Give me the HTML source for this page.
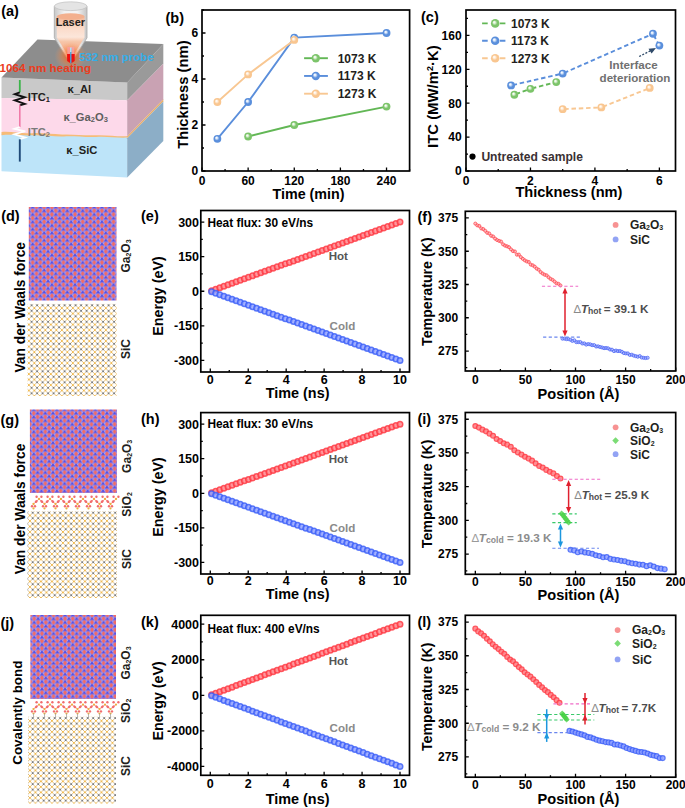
<!DOCTYPE html>
<html><head><meta charset="utf-8"><style>html,body{margin:0;padding:0;background:#fff;overflow:hidden;width:685px;height:808px;} svg{display:block;} text{font-family:"Liberation Sans", sans-serif;}</style></head>
<body><svg width="685" height="808" viewBox="0 0 685 808" font-family='"Liberation Sans", sans-serif'>
<defs>
<radialGradient id="sp_g" cx="0.5" cy="0.5" r="0.5" fx="0.36" fy="0.34"><stop offset="0" stop-color="#ffffff"/><stop offset="0.22" stop-color="#e8f6e2"/><stop offset="0.6" stop-color="#7cc46a"/><stop offset="1" stop-color="#7cc46a"/></radialGradient>
<radialGradient id="sp_bl" cx="0.5" cy="0.5" r="0.5" fx="0.36" fy="0.34"><stop offset="0" stop-color="#ffffff"/><stop offset="0.22" stop-color="#e4eefb"/><stop offset="0.6" stop-color="#5a8fdc"/><stop offset="1" stop-color="#5a8fdc"/></radialGradient>
<radialGradient id="sp_pe" cx="0.5" cy="0.5" r="0.5" fx="0.36" fy="0.34"><stop offset="0" stop-color="#ffffff"/><stop offset="0.22" stop-color="#fff3e6"/><stop offset="0.6" stop-color="#f9c690"/><stop offset="1" stop-color="#f9c690"/></radialGradient>
<pattern id="ga_d" patternUnits="userSpaceOnUse" width="7.7" height="7.4" x="28.8" y="207">
<rect width="7.7" height="7.4" fill="#b8a4ea"/>
<path d="M0.000 -2.800l1.95 2.8l-1.95 2.8l-1.95 -2.8z M7.700 -2.800l1.95 2.8l-1.95 2.8l-1.95 -2.8z M3.850 0.900l1.95 2.8l-1.95 2.8l-1.95 -2.8z M0.000 4.600l1.95 2.8l-1.95 2.8l-1.95 -2.8z M7.700 4.600l1.95 2.8l-1.95 2.8l-1.95 -2.8z" fill="#f26a62"/>
<path d="M3.850 -1.800l2.25 3.3h-4.5z M0.000 1.900l2.25 3.3h-4.5z M7.700 1.900l2.25 3.3h-4.5z M3.850 5.600l2.25 3.3h-4.5z" fill="#5250e6"/>
<circle cx="1.925" cy="1.850" r="0.7" fill="#7a6ae8"/><circle cx="5.775" cy="1.850" r="0.7" fill="#7a6ae8"/><circle cx="1.925" cy="5.550" r="0.7" fill="#7a6ae8"/><circle cx="5.775" cy="5.550" r="0.7" fill="#7a6ae8"/>
</pattern><pattern id="ga_g" patternUnits="userSpaceOnUse" width="7.7" height="7.4" x="29.9" y="409.5">
<rect width="7.7" height="7.4" fill="#b8a4ea"/>
<path d="M0.000 -2.800l1.95 2.8l-1.95 2.8l-1.95 -2.8z M7.700 -2.800l1.95 2.8l-1.95 2.8l-1.95 -2.8z M3.850 0.900l1.95 2.8l-1.95 2.8l-1.95 -2.8z M0.000 4.600l1.95 2.8l-1.95 2.8l-1.95 -2.8z M7.700 4.600l1.95 2.8l-1.95 2.8l-1.95 -2.8z" fill="#f26a62"/>
<path d="M3.850 -1.800l2.25 3.3h-4.5z M0.000 1.900l2.25 3.3h-4.5z M7.700 1.900l2.25 3.3h-4.5z M3.850 5.600l2.25 3.3h-4.5z" fill="#5250e6"/>
<circle cx="1.925" cy="1.850" r="0.7" fill="#7a6ae8"/><circle cx="5.775" cy="1.850" r="0.7" fill="#7a6ae8"/><circle cx="1.925" cy="5.550" r="0.7" fill="#7a6ae8"/><circle cx="5.775" cy="5.550" r="0.7" fill="#7a6ae8"/>
</pattern><pattern id="ga_j" patternUnits="userSpaceOnUse" width="7.7" height="7.4" x="30.4" y="615">
<rect width="7.7" height="7.4" fill="#b8a4ea"/>
<path d="M0.000 -2.800l1.95 2.8l-1.95 2.8l-1.95 -2.8z M7.700 -2.800l1.95 2.8l-1.95 2.8l-1.95 -2.8z M3.850 0.900l1.95 2.8l-1.95 2.8l-1.95 -2.8z M0.000 4.600l1.95 2.8l-1.95 2.8l-1.95 -2.8z M7.700 4.600l1.95 2.8l-1.95 2.8l-1.95 -2.8z" fill="#f26a62"/>
<path d="M3.850 -1.800l2.25 3.3h-4.5z M0.000 1.900l2.25 3.3h-4.5z M7.700 1.900l2.25 3.3h-4.5z M3.850 5.600l2.25 3.3h-4.5z" fill="#5250e6"/>
<circle cx="1.925" cy="1.850" r="0.7" fill="#7a6ae8"/><circle cx="5.775" cy="1.850" r="0.7" fill="#7a6ae8"/><circle cx="1.925" cy="5.550" r="0.7" fill="#7a6ae8"/><circle cx="5.775" cy="5.550" r="0.7" fill="#7a6ae8"/>
</pattern><pattern id="sic_d" patternUnits="userSpaceOnUse" width="5.5" height="5.5" x="31.6" y="305.3">
<path d="M-1.45 -1.45L1.45 1.45M1.45 -1.45L-1.45 1.45 M4.05 -1.45L6.95 1.45M6.95 -1.45L4.05 1.45 M-1.45 4.05L1.45 6.95M1.45 4.05L-1.45 6.95 M4.05 4.05L6.95 6.95M6.95 4.05L4.05 6.95" stroke="#7a7a7a" stroke-width="0.9"/>
<path d="M1.3 1.3L4.2 4.2M4.2 1.3L1.3 4.2" stroke="#f0b84c" stroke-width="0.9"/>
</pattern><pattern id="sic_g" patternUnits="userSpaceOnUse" width="5.5" height="5.5" x="32.7" y="512.7">
<path d="M-1.45 -1.45L1.45 1.45M1.45 -1.45L-1.45 1.45 M4.05 -1.45L6.95 1.45M6.95 -1.45L4.05 1.45 M-1.45 4.05L1.45 6.95M1.45 4.05L-1.45 6.95 M4.05 4.05L6.95 6.95M6.95 4.05L4.05 6.95" stroke="#7a7a7a" stroke-width="0.9"/>
<path d="M1.3 1.3L4.2 4.2M4.2 1.3L1.3 4.2" stroke="#f0b84c" stroke-width="0.9"/>
</pattern><pattern id="sic_j" patternUnits="userSpaceOnUse" width="5.5" height="5.5" x="32.7" y="718.1">
<path d="M-1.45 -1.45L1.45 1.45M1.45 -1.45L-1.45 1.45 M4.05 -1.45L6.95 1.45M6.95 -1.45L4.05 1.45 M-1.45 4.05L1.45 6.95M1.45 4.05L-1.45 6.95 M4.05 4.05L6.95 6.95M6.95 4.05L4.05 6.95" stroke="#7a7a7a" stroke-width="0.9"/>
<path d="M1.3 1.3L4.2 4.2M4.2 1.3L1.3 4.2" stroke="#f0b84c" stroke-width="0.9"/>
</pattern></defs>
<rect width="685" height="808" fill="#fff"/>
<rect x="202" y="10" width="207.60" height="161.00" fill="none" stroke="#000" stroke-width="1.7"/>
<path d="M202.00 171v-3.5 M248.13 171v-3.5 M294.27 171v-3.5 M340.40 171v-3.5 M386.53 171v-3.5 M225.07 171v-2.0 M271.20 171v-2.0 M317.33 171v-2.0 M363.47 171v-2.0 M409.60 171v-2.0 M202 171.00h3.5 M202 125.00h3.5 M202 79.00h3.5 M202 33.00h3.5 M202 148.00h2.0 M202 102.00h2.0 M202 56.00h2.0 M202 10.00h2.0" stroke="#000" stroke-width="1.3" fill="none"/>
<text x="202.00" y="185.20" font-size="12" text-anchor="middle" fill="#000" font-weight="bold" >0</text>
<text x="248.13" y="185.20" font-size="12" text-anchor="middle" fill="#000" font-weight="bold" >60</text>
<text x="294.27" y="185.20" font-size="12" text-anchor="middle" fill="#000" font-weight="bold" >120</text>
<text x="340.40" y="185.20" font-size="12" text-anchor="middle" fill="#000" font-weight="bold" >180</text>
<text x="386.53" y="185.20" font-size="12" text-anchor="middle" fill="#000" font-weight="bold" >240</text>
<text x="198.20" y="175.32" font-size="12" text-anchor="end" fill="#000" font-weight="bold" >0</text>
<text x="198.20" y="129.32" font-size="12" text-anchor="end" fill="#000" font-weight="bold" >2</text>
<text x="198.20" y="83.32" font-size="12" text-anchor="end" fill="#000" font-weight="bold" >4</text>
<text x="198.20" y="37.32" font-size="12" text-anchor="end" fill="#000" font-weight="bold" >6</text>
<text x="165.50" y="22.50" font-size="14.5" text-anchor="start" fill="#000" font-weight="bold" >(b)</text>
<text transform="translate(188.20,94.60) rotate(-90)" x="0" y="0" font-size="14.8" text-anchor="middle" fill="#000" font-weight="bold">Thickness (nm)</text>
<text x="308.50" y="198.50" font-size="14.3" text-anchor="middle" fill="#000" font-weight="bold" >Time (min)</text>
<path d="M248.13 136.50 L294.27 125.00 L386.53 106.60" stroke="#62b755" stroke-width="1.9" fill="none"/>
<path d="M217.38 138.80 L248.13 102.00 L294.27 37.60 L386.53 33.00" stroke="#5a8edb" stroke-width="1.9" fill="none"/>
<path d="M217.38 102.00 L248.13 74.40 L294.27 39.90" stroke="#f8c792" stroke-width="1.9" fill="none"/>
<circle cx="248.13" cy="136.50" r="3.9" fill="url(#sp_g)"/>
<circle cx="294.27" cy="125.00" r="3.9" fill="url(#sp_g)"/>
<circle cx="386.53" cy="106.60" r="3.9" fill="url(#sp_g)"/>
<circle cx="217.38" cy="138.80" r="3.9" fill="url(#sp_bl)"/>
<circle cx="248.13" cy="102.00" r="3.9" fill="url(#sp_bl)"/>
<circle cx="294.27" cy="37.60" r="3.9" fill="url(#sp_bl)"/>
<circle cx="386.53" cy="33.00" r="3.9" fill="url(#sp_bl)"/>
<circle cx="217.38" cy="102.00" r="3.9" fill="url(#sp_pe)"/>
<circle cx="248.13" cy="74.40" r="3.9" fill="url(#sp_pe)"/>
<circle cx="294.27" cy="39.90" r="3.9" fill="url(#sp_pe)"/>
<path d="M304.1 58.20H327.9" stroke="#62b755" stroke-width="1.9"/>
<circle cx="315.8" cy="58.20" r="4.2" fill="url(#sp_g)"/>
<text x="337.70" y="62.50" font-size="12" text-anchor="start" fill="#231f20" font-weight="bold" >1073 K</text>
<path d="M304.1 75.95H327.9" stroke="#5a8edb" stroke-width="1.9"/>
<circle cx="315.8" cy="75.95" r="4.2" fill="url(#sp_bl)"/>
<text x="337.70" y="80.25" font-size="12" text-anchor="start" fill="#231f20" font-weight="bold" >1173 K</text>
<path d="M304.1 93.70H327.9" stroke="#f8c792" stroke-width="1.9"/>
<circle cx="315.8" cy="93.70" r="4.2" fill="url(#sp_pe)"/>
<text x="337.70" y="98.00" font-size="12" text-anchor="start" fill="#231f20" font-weight="bold" >1273 K</text>
<rect x="466" y="10" width="209.50" height="161.00" fill="none" stroke="#000" stroke-width="1.7"/>
<path d="M466.00 171v-3.5 M530.46 171v-3.5 M594.92 171v-3.5 M659.38 171v-3.5 M498.23 171v-2.0 M562.69 171v-2.0 M627.15 171v-2.0 M466 171.00h3.5 M466 137.11h3.5 M466 103.21h3.5 M466 69.32h3.5 M466 35.42h3.5 M466 154.05h2.0 M466 120.16h2.0 M466 86.26h2.0 M466 52.37h2.0 M466 18.47h2.0" stroke="#000" stroke-width="1.3" fill="none"/>
<text x="466.00" y="184.80" font-size="12" text-anchor="middle" fill="#000" font-weight="bold" >0</text>
<text x="530.46" y="184.80" font-size="12" text-anchor="middle" fill="#000" font-weight="bold" >2</text>
<text x="594.92" y="184.80" font-size="12" text-anchor="middle" fill="#000" font-weight="bold" >4</text>
<text x="659.38" y="184.80" font-size="12" text-anchor="middle" fill="#000" font-weight="bold" >6</text>
<text x="461.60" y="175.32" font-size="12" text-anchor="end" fill="#000" font-weight="bold" >0</text>
<text x="461.60" y="141.43" font-size="12" text-anchor="end" fill="#000" font-weight="bold" >40</text>
<text x="461.60" y="107.53" font-size="12" text-anchor="end" fill="#000" font-weight="bold" >80</text>
<text x="461.60" y="73.64" font-size="12" text-anchor="end" fill="#000" font-weight="bold" >120</text>
<text x="461.60" y="39.74" font-size="12" text-anchor="end" fill="#000" font-weight="bold" >160</text>
<text x="421.00" y="22.00" font-size="14.5" text-anchor="start" fill="#000" font-weight="bold" >(c)</text>
<text transform="translate(438.00,96.70) rotate(-90)" x="0" y="0" font-size="14.9" text-anchor="middle" fill="#000" font-weight="bold">ITC (MW/m<tspan font-size="9" dy="-5">2</tspan><tspan dy="5">·K)</tspan></text>
<text x="568.90" y="197.00" font-size="14.6" text-anchor="middle" fill="#000" font-weight="bold" >Thickness (nm)</text>
<path d="M514.35 94.74L530.46 88.81" stroke="#62b755" stroke-width="1.9" stroke-dasharray="4.5 2.8" stroke-dashoffset="-1.5" fill="none"/>
<path d="M530.46 88.81L556.25 82.03" stroke="#62b755" stroke-width="1.9" stroke-dasharray="4.5 2.8" stroke-dashoffset="-1.5" fill="none"/>
<path d="M511.12 85.42L562.69 73.55" stroke="#5a8edb" stroke-width="1.9" stroke-dasharray="4.5 2.8" stroke-dashoffset="-1.5" fill="none"/>
<path d="M562.69 73.55L652.94 33.73" stroke="#5a8edb" stroke-width="1.9" stroke-dasharray="4.5 2.8" stroke-dashoffset="-1.5" fill="none"/>
<path d="M652.94 33.73L659.38 45.59" stroke="#5a8edb" stroke-width="1.9" stroke-dasharray="4.5 2.8" stroke-dashoffset="-1.5" fill="none"/>
<path d="M562.69 109.14L601.37 107.45" stroke="#f8c792" stroke-width="1.9" stroke-dasharray="4.5 2.8" stroke-dashoffset="-1.5" fill="none"/>
<path d="M601.37 107.45L649.72 87.96" stroke="#f8c792" stroke-width="1.9" stroke-dasharray="4.5 2.8" stroke-dashoffset="-1.5" fill="none"/>
<circle cx="514.35" cy="94.74" r="3.9" fill="url(#sp_g)"/>
<circle cx="530.46" cy="88.81" r="3.9" fill="url(#sp_g)"/>
<circle cx="556.25" cy="82.03" r="3.9" fill="url(#sp_g)"/>
<circle cx="511.12" cy="85.42" r="3.9" fill="url(#sp_bl)"/>
<circle cx="562.69" cy="73.55" r="3.9" fill="url(#sp_bl)"/>
<circle cx="652.94" cy="33.73" r="3.9" fill="url(#sp_bl)"/>
<circle cx="659.38" cy="45.59" r="3.9" fill="url(#sp_bl)"/>
<circle cx="562.69" cy="109.14" r="3.9" fill="url(#sp_pe)"/>
<circle cx="601.37" cy="107.45" r="3.9" fill="url(#sp_pe)"/>
<circle cx="649.72" cy="87.96" r="3.9" fill="url(#sp_pe)"/>
<path d="M482.1 23.40h5.6M500 23.40h5.4" stroke="#62b755" stroke-width="1.9"/>
<circle cx="495.2" cy="23.40" r="4.3" fill="url(#sp_g)"/>
<text x="511.00" y="27.70" font-size="12" text-anchor="start" fill="#231f20" font-weight="bold" >1073 K</text>
<path d="M482.1 40.80h5.6M500 40.80h5.4" stroke="#5a8edb" stroke-width="1.9"/>
<circle cx="495.2" cy="40.80" r="4.3" fill="url(#sp_bl)"/>
<text x="511.00" y="45.10" font-size="12" text-anchor="start" fill="#231f20" font-weight="bold" >1173 K</text>
<path d="M482.1 58.20h5.6M500 58.20h5.4" stroke="#f8c792" stroke-width="1.9"/>
<circle cx="495.2" cy="58.20" r="4.3" fill="url(#sp_pe)"/>
<text x="511.00" y="62.50" font-size="12" text-anchor="start" fill="#231f20" font-weight="bold" >1273 K</text>
<text x="633.50" y="68.50" font-size="11.6" text-anchor="middle" fill="#707070" font-weight="bold" >Interface</text>
<text x="635.00" y="81.50" font-size="11.6" text-anchor="middle" fill="#707070" font-weight="bold" >deterioration</text>
<path d="M639.2 56.5 L652 50" stroke="#2f4a69" stroke-width="1.3" stroke-dasharray="2 1.5"/>
<path d="M656 48 L648.5 48.8 L651.6 53.6 Z" fill="#2f4a69"/>
<circle cx="472.5" cy="156.6" r="3.1" fill="#000"/>
<text x="481.40" y="160.90" font-size="12.1" text-anchor="start" fill="#3a3134" font-weight="bold" >Untreated sample</text>
<rect x="200.8" y="210.5" width="208.70" height="161.50" fill="none" stroke="#000" stroke-width="1.7"/>
<path d="M210.29 372v-3.5 M248.23 372v-3.5 M286.18 372v-3.5 M324.12 372v-3.5 M362.07 372v-3.5 M400.01 372v-3.5 M229.26 372v-2.0 M267.20 372v-2.0 M305.15 372v-2.0 M343.10 372v-2.0 M381.04 372v-2.0 M200.8 360.46h3.5 M200.8 325.86h3.5 M200.8 291.25h3.5 M200.8 256.64h3.5 M200.8 222.04h3.5 M200.8 343.16h2.0 M200.8 308.55h2.0 M200.8 273.95h2.0 M200.8 239.34h2.0" stroke="#000" stroke-width="1.3" fill="none"/>
<text x="210.29" y="384.20" font-size="12.5" text-anchor="middle" fill="#000" font-weight="bold" >0</text>
<text x="248.23" y="384.20" font-size="12.5" text-anchor="middle" fill="#000" font-weight="bold" >2</text>
<text x="286.18" y="384.20" font-size="12.5" text-anchor="middle" fill="#000" font-weight="bold" >4</text>
<text x="324.12" y="384.20" font-size="12.5" text-anchor="middle" fill="#000" font-weight="bold" >6</text>
<text x="362.07" y="384.20" font-size="12.5" text-anchor="middle" fill="#000" font-weight="bold" >8</text>
<text x="400.01" y="384.20" font-size="12.5" text-anchor="middle" fill="#000" font-weight="bold" >10</text>
<text x="199.00" y="364.96" font-size="12.5" text-anchor="end" fill="#000" font-weight="bold" >-300</text>
<text x="199.00" y="330.36" font-size="12.5" text-anchor="end" fill="#000" font-weight="bold" >-150</text>
<text x="199.00" y="295.75" font-size="12.5" text-anchor="end" fill="#000" font-weight="bold" >0</text>
<text x="199.00" y="261.14" font-size="12.5" text-anchor="end" fill="#000" font-weight="bold" >150</text>
<text x="199.00" y="226.54" font-size="12.5" text-anchor="end" fill="#000" font-weight="bold" >300</text>
<text x="141.00" y="221.00" font-size="14.5" text-anchor="start" fill="#000" font-weight="bold" >(e)</text>
<text transform="translate(162.60,296.00) rotate(-90)" x="0" y="0" font-size="14.3" text-anchor="middle" fill="#000" font-weight="bold">Energy (eV)</text>
<text x="297.60" y="397.70" font-size="14.4" text-anchor="middle" fill="#000" font-weight="bold" >Time (ns)</text>
<text x="207.40" y="226.70" font-size="11.9" text-anchor="start" fill="#000" font-weight="bold" >Heat flux: 30 eV/ns</text>
<text x="338.30" y="260.40" font-size="11.6" text-anchor="middle" fill="#555555" font-weight="bold" >Hot</text>
<text x="342.40" y="329.90" font-size="11.6" text-anchor="middle" fill="#8a8a8a" font-weight="bold" >Cold</text>
<circle cx="211.61" cy="290.77" r="2.75" fill="#ff7f86" fill-opacity="0.8" stroke="#ff3640" stroke-opacity="0.8" stroke-width="1.5"/><circle cx="215.71" cy="289.27" r="2.75" fill="#ff7f86" fill-opacity="0.8" stroke="#ff3640" stroke-opacity="0.8" stroke-width="1.5"/><circle cx="219.81" cy="287.78" r="2.75" fill="#ff7f86" fill-opacity="0.8" stroke="#ff3640" stroke-opacity="0.8" stroke-width="1.5"/><circle cx="223.90" cy="286.28" r="2.75" fill="#ff7f86" fill-opacity="0.8" stroke="#ff3640" stroke-opacity="0.8" stroke-width="1.5"/><circle cx="228.00" cy="284.79" r="2.75" fill="#ff7f86" fill-opacity="0.8" stroke="#ff3640" stroke-opacity="0.8" stroke-width="1.5"/><circle cx="232.09" cy="283.29" r="2.75" fill="#ff7f86" fill-opacity="0.8" stroke="#ff3640" stroke-opacity="0.8" stroke-width="1.5"/><circle cx="236.19" cy="281.80" r="2.75" fill="#ff7f86" fill-opacity="0.8" stroke="#ff3640" stroke-opacity="0.8" stroke-width="1.5"/><circle cx="240.28" cy="280.31" r="2.75" fill="#ff7f86" fill-opacity="0.8" stroke="#ff3640" stroke-opacity="0.8" stroke-width="1.5"/><circle cx="244.38" cy="278.81" r="2.75" fill="#ff7f86" fill-opacity="0.8" stroke="#ff3640" stroke-opacity="0.8" stroke-width="1.5"/><circle cx="248.48" cy="277.32" r="2.75" fill="#ff7f86" fill-opacity="0.8" stroke="#ff3640" stroke-opacity="0.8" stroke-width="1.5"/><circle cx="252.57" cy="275.82" r="2.75" fill="#ff7f86" fill-opacity="0.8" stroke="#ff3640" stroke-opacity="0.8" stroke-width="1.5"/><circle cx="256.67" cy="274.33" r="2.75" fill="#ff7f86" fill-opacity="0.8" stroke="#ff3640" stroke-opacity="0.8" stroke-width="1.5"/><circle cx="260.76" cy="272.84" r="2.75" fill="#ff7f86" fill-opacity="0.8" stroke="#ff3640" stroke-opacity="0.8" stroke-width="1.5"/><circle cx="264.86" cy="271.34" r="2.75" fill="#ff7f86" fill-opacity="0.8" stroke="#ff3640" stroke-opacity="0.8" stroke-width="1.5"/><circle cx="268.95" cy="269.85" r="2.75" fill="#ff7f86" fill-opacity="0.8" stroke="#ff3640" stroke-opacity="0.8" stroke-width="1.5"/><circle cx="273.05" cy="268.35" r="2.75" fill="#ff7f86" fill-opacity="0.8" stroke="#ff3640" stroke-opacity="0.8" stroke-width="1.5"/><circle cx="277.14" cy="266.86" r="2.75" fill="#ff7f86" fill-opacity="0.8" stroke="#ff3640" stroke-opacity="0.8" stroke-width="1.5"/><circle cx="281.24" cy="265.37" r="2.75" fill="#ff7f86" fill-opacity="0.8" stroke="#ff3640" stroke-opacity="0.8" stroke-width="1.5"/><circle cx="285.34" cy="263.87" r="2.75" fill="#ff7f86" fill-opacity="0.8" stroke="#ff3640" stroke-opacity="0.8" stroke-width="1.5"/><circle cx="289.43" cy="262.38" r="2.75" fill="#ff7f86" fill-opacity="0.8" stroke="#ff3640" stroke-opacity="0.8" stroke-width="1.5"/><circle cx="293.53" cy="260.88" r="2.75" fill="#ff7f86" fill-opacity="0.8" stroke="#ff3640" stroke-opacity="0.8" stroke-width="1.5"/><circle cx="297.62" cy="259.39" r="2.75" fill="#ff7f86" fill-opacity="0.8" stroke="#ff3640" stroke-opacity="0.8" stroke-width="1.5"/><circle cx="301.72" cy="257.89" r="2.75" fill="#ff7f86" fill-opacity="0.8" stroke="#ff3640" stroke-opacity="0.8" stroke-width="1.5"/><circle cx="305.81" cy="256.40" r="2.75" fill="#ff7f86" fill-opacity="0.8" stroke="#ff3640" stroke-opacity="0.8" stroke-width="1.5"/><circle cx="309.91" cy="254.91" r="2.75" fill="#ff7f86" fill-opacity="0.8" stroke="#ff3640" stroke-opacity="0.8" stroke-width="1.5"/><circle cx="314.01" cy="253.41" r="2.75" fill="#ff7f86" fill-opacity="0.8" stroke="#ff3640" stroke-opacity="0.8" stroke-width="1.5"/><circle cx="318.10" cy="251.92" r="2.75" fill="#ff7f86" fill-opacity="0.8" stroke="#ff3640" stroke-opacity="0.8" stroke-width="1.5"/><circle cx="322.20" cy="250.42" r="2.75" fill="#ff7f86" fill-opacity="0.8" stroke="#ff3640" stroke-opacity="0.8" stroke-width="1.5"/><circle cx="326.29" cy="248.93" r="2.75" fill="#ff7f86" fill-opacity="0.8" stroke="#ff3640" stroke-opacity="0.8" stroke-width="1.5"/><circle cx="330.39" cy="247.44" r="2.75" fill="#ff7f86" fill-opacity="0.8" stroke="#ff3640" stroke-opacity="0.8" stroke-width="1.5"/><circle cx="334.48" cy="245.94" r="2.75" fill="#ff7f86" fill-opacity="0.8" stroke="#ff3640" stroke-opacity="0.8" stroke-width="1.5"/><circle cx="338.58" cy="244.45" r="2.75" fill="#ff7f86" fill-opacity="0.8" stroke="#ff3640" stroke-opacity="0.8" stroke-width="1.5"/><circle cx="342.67" cy="242.95" r="2.75" fill="#ff7f86" fill-opacity="0.8" stroke="#ff3640" stroke-opacity="0.8" stroke-width="1.5"/><circle cx="346.77" cy="241.46" r="2.75" fill="#ff7f86" fill-opacity="0.8" stroke="#ff3640" stroke-opacity="0.8" stroke-width="1.5"/><circle cx="350.87" cy="239.97" r="2.75" fill="#ff7f86" fill-opacity="0.8" stroke="#ff3640" stroke-opacity="0.8" stroke-width="1.5"/><circle cx="354.96" cy="238.47" r="2.75" fill="#ff7f86" fill-opacity="0.8" stroke="#ff3640" stroke-opacity="0.8" stroke-width="1.5"/><circle cx="359.06" cy="236.98" r="2.75" fill="#ff7f86" fill-opacity="0.8" stroke="#ff3640" stroke-opacity="0.8" stroke-width="1.5"/><circle cx="363.15" cy="235.48" r="2.75" fill="#ff7f86" fill-opacity="0.8" stroke="#ff3640" stroke-opacity="0.8" stroke-width="1.5"/><circle cx="367.25" cy="233.99" r="2.75" fill="#ff7f86" fill-opacity="0.8" stroke="#ff3640" stroke-opacity="0.8" stroke-width="1.5"/><circle cx="371.34" cy="232.49" r="2.75" fill="#ff7f86" fill-opacity="0.8" stroke="#ff3640" stroke-opacity="0.8" stroke-width="1.5"/><circle cx="375.44" cy="231.00" r="2.75" fill="#ff7f86" fill-opacity="0.8" stroke="#ff3640" stroke-opacity="0.8" stroke-width="1.5"/><circle cx="379.54" cy="229.51" r="2.75" fill="#ff7f86" fill-opacity="0.8" stroke="#ff3640" stroke-opacity="0.8" stroke-width="1.5"/><circle cx="383.63" cy="228.01" r="2.75" fill="#ff7f86" fill-opacity="0.8" stroke="#ff3640" stroke-opacity="0.8" stroke-width="1.5"/><circle cx="387.73" cy="226.52" r="2.75" fill="#ff7f86" fill-opacity="0.8" stroke="#ff3640" stroke-opacity="0.8" stroke-width="1.5"/><circle cx="391.82" cy="225.02" r="2.75" fill="#ff7f86" fill-opacity="0.8" stroke="#ff3640" stroke-opacity="0.8" stroke-width="1.5"/><circle cx="395.92" cy="223.53" r="2.75" fill="#ff7f86" fill-opacity="0.8" stroke="#ff3640" stroke-opacity="0.8" stroke-width="1.5"/><circle cx="400.01" cy="222.04" r="2.75" fill="#ff7f86" fill-opacity="0.8" stroke="#ff3640" stroke-opacity="0.8" stroke-width="1.5"/><circle cx="211.61" cy="291.73" r="2.75" fill="#8c9eff" fill-opacity="0.8" stroke="#3a5ef7" stroke-opacity="0.8" stroke-width="1.5"/><circle cx="215.71" cy="293.23" r="2.75" fill="#8c9eff" fill-opacity="0.8" stroke="#3a5ef7" stroke-opacity="0.8" stroke-width="1.5"/><circle cx="219.81" cy="294.72" r="2.75" fill="#8c9eff" fill-opacity="0.8" stroke="#3a5ef7" stroke-opacity="0.8" stroke-width="1.5"/><circle cx="223.90" cy="296.22" r="2.75" fill="#8c9eff" fill-opacity="0.8" stroke="#3a5ef7" stroke-opacity="0.8" stroke-width="1.5"/><circle cx="228.00" cy="297.71" r="2.75" fill="#8c9eff" fill-opacity="0.8" stroke="#3a5ef7" stroke-opacity="0.8" stroke-width="1.5"/><circle cx="232.09" cy="299.21" r="2.75" fill="#8c9eff" fill-opacity="0.8" stroke="#3a5ef7" stroke-opacity="0.8" stroke-width="1.5"/><circle cx="236.19" cy="300.70" r="2.75" fill="#8c9eff" fill-opacity="0.8" stroke="#3a5ef7" stroke-opacity="0.8" stroke-width="1.5"/><circle cx="240.28" cy="302.19" r="2.75" fill="#8c9eff" fill-opacity="0.8" stroke="#3a5ef7" stroke-opacity="0.8" stroke-width="1.5"/><circle cx="244.38" cy="303.69" r="2.75" fill="#8c9eff" fill-opacity="0.8" stroke="#3a5ef7" stroke-opacity="0.8" stroke-width="1.5"/><circle cx="248.48" cy="305.18" r="2.75" fill="#8c9eff" fill-opacity="0.8" stroke="#3a5ef7" stroke-opacity="0.8" stroke-width="1.5"/><circle cx="252.57" cy="306.68" r="2.75" fill="#8c9eff" fill-opacity="0.8" stroke="#3a5ef7" stroke-opacity="0.8" stroke-width="1.5"/><circle cx="256.67" cy="308.17" r="2.75" fill="#8c9eff" fill-opacity="0.8" stroke="#3a5ef7" stroke-opacity="0.8" stroke-width="1.5"/><circle cx="260.76" cy="309.66" r="2.75" fill="#8c9eff" fill-opacity="0.8" stroke="#3a5ef7" stroke-opacity="0.8" stroke-width="1.5"/><circle cx="264.86" cy="311.16" r="2.75" fill="#8c9eff" fill-opacity="0.8" stroke="#3a5ef7" stroke-opacity="0.8" stroke-width="1.5"/><circle cx="268.95" cy="312.65" r="2.75" fill="#8c9eff" fill-opacity="0.8" stroke="#3a5ef7" stroke-opacity="0.8" stroke-width="1.5"/><circle cx="273.05" cy="314.15" r="2.75" fill="#8c9eff" fill-opacity="0.8" stroke="#3a5ef7" stroke-opacity="0.8" stroke-width="1.5"/><circle cx="277.14" cy="315.64" r="2.75" fill="#8c9eff" fill-opacity="0.8" stroke="#3a5ef7" stroke-opacity="0.8" stroke-width="1.5"/><circle cx="281.24" cy="317.13" r="2.75" fill="#8c9eff" fill-opacity="0.8" stroke="#3a5ef7" stroke-opacity="0.8" stroke-width="1.5"/><circle cx="285.34" cy="318.63" r="2.75" fill="#8c9eff" fill-opacity="0.8" stroke="#3a5ef7" stroke-opacity="0.8" stroke-width="1.5"/><circle cx="289.43" cy="320.12" r="2.75" fill="#8c9eff" fill-opacity="0.8" stroke="#3a5ef7" stroke-opacity="0.8" stroke-width="1.5"/><circle cx="293.53" cy="321.62" r="2.75" fill="#8c9eff" fill-opacity="0.8" stroke="#3a5ef7" stroke-opacity="0.8" stroke-width="1.5"/><circle cx="297.62" cy="323.11" r="2.75" fill="#8c9eff" fill-opacity="0.8" stroke="#3a5ef7" stroke-opacity="0.8" stroke-width="1.5"/><circle cx="301.72" cy="324.61" r="2.75" fill="#8c9eff" fill-opacity="0.8" stroke="#3a5ef7" stroke-opacity="0.8" stroke-width="1.5"/><circle cx="305.81" cy="326.10" r="2.75" fill="#8c9eff" fill-opacity="0.8" stroke="#3a5ef7" stroke-opacity="0.8" stroke-width="1.5"/><circle cx="309.91" cy="327.59" r="2.75" fill="#8c9eff" fill-opacity="0.8" stroke="#3a5ef7" stroke-opacity="0.8" stroke-width="1.5"/><circle cx="314.01" cy="329.09" r="2.75" fill="#8c9eff" fill-opacity="0.8" stroke="#3a5ef7" stroke-opacity="0.8" stroke-width="1.5"/><circle cx="318.10" cy="330.58" r="2.75" fill="#8c9eff" fill-opacity="0.8" stroke="#3a5ef7" stroke-opacity="0.8" stroke-width="1.5"/><circle cx="322.20" cy="332.08" r="2.75" fill="#8c9eff" fill-opacity="0.8" stroke="#3a5ef7" stroke-opacity="0.8" stroke-width="1.5"/><circle cx="326.29" cy="333.57" r="2.75" fill="#8c9eff" fill-opacity="0.8" stroke="#3a5ef7" stroke-opacity="0.8" stroke-width="1.5"/><circle cx="330.39" cy="335.06" r="2.75" fill="#8c9eff" fill-opacity="0.8" stroke="#3a5ef7" stroke-opacity="0.8" stroke-width="1.5"/><circle cx="334.48" cy="336.56" r="2.75" fill="#8c9eff" fill-opacity="0.8" stroke="#3a5ef7" stroke-opacity="0.8" stroke-width="1.5"/><circle cx="338.58" cy="338.05" r="2.75" fill="#8c9eff" fill-opacity="0.8" stroke="#3a5ef7" stroke-opacity="0.8" stroke-width="1.5"/><circle cx="342.67" cy="339.55" r="2.75" fill="#8c9eff" fill-opacity="0.8" stroke="#3a5ef7" stroke-opacity="0.8" stroke-width="1.5"/><circle cx="346.77" cy="341.04" r="2.75" fill="#8c9eff" fill-opacity="0.8" stroke="#3a5ef7" stroke-opacity="0.8" stroke-width="1.5"/><circle cx="350.87" cy="342.53" r="2.75" fill="#8c9eff" fill-opacity="0.8" stroke="#3a5ef7" stroke-opacity="0.8" stroke-width="1.5"/><circle cx="354.96" cy="344.03" r="2.75" fill="#8c9eff" fill-opacity="0.8" stroke="#3a5ef7" stroke-opacity="0.8" stroke-width="1.5"/><circle cx="359.06" cy="345.52" r="2.75" fill="#8c9eff" fill-opacity="0.8" stroke="#3a5ef7" stroke-opacity="0.8" stroke-width="1.5"/><circle cx="363.15" cy="347.02" r="2.75" fill="#8c9eff" fill-opacity="0.8" stroke="#3a5ef7" stroke-opacity="0.8" stroke-width="1.5"/><circle cx="367.25" cy="348.51" r="2.75" fill="#8c9eff" fill-opacity="0.8" stroke="#3a5ef7" stroke-opacity="0.8" stroke-width="1.5"/><circle cx="371.34" cy="350.01" r="2.75" fill="#8c9eff" fill-opacity="0.8" stroke="#3a5ef7" stroke-opacity="0.8" stroke-width="1.5"/><circle cx="375.44" cy="351.50" r="2.75" fill="#8c9eff" fill-opacity="0.8" stroke="#3a5ef7" stroke-opacity="0.8" stroke-width="1.5"/><circle cx="379.54" cy="352.99" r="2.75" fill="#8c9eff" fill-opacity="0.8" stroke="#3a5ef7" stroke-opacity="0.8" stroke-width="1.5"/><circle cx="383.63" cy="354.49" r="2.75" fill="#8c9eff" fill-opacity="0.8" stroke="#3a5ef7" stroke-opacity="0.8" stroke-width="1.5"/><circle cx="387.73" cy="355.98" r="2.75" fill="#8c9eff" fill-opacity="0.8" stroke="#3a5ef7" stroke-opacity="0.8" stroke-width="1.5"/><circle cx="391.82" cy="357.48" r="2.75" fill="#8c9eff" fill-opacity="0.8" stroke="#3a5ef7" stroke-opacity="0.8" stroke-width="1.5"/><circle cx="395.92" cy="358.97" r="2.75" fill="#8c9eff" fill-opacity="0.8" stroke="#3a5ef7" stroke-opacity="0.8" stroke-width="1.5"/><circle cx="400.01" cy="360.46" r="2.75" fill="#8c9eff" fill-opacity="0.8" stroke="#3a5ef7" stroke-opacity="0.8" stroke-width="1.5"/>
<rect x="200.8" y="412.6" width="208.70" height="161.40" fill="none" stroke="#000" stroke-width="1.7"/>
<path d="M210.29 574v-3.5 M248.23 574v-3.5 M286.18 574v-3.5 M324.12 574v-3.5 M362.07 574v-3.5 M400.01 574v-3.5 M229.26 574v-2.0 M267.20 574v-2.0 M305.15 574v-2.0 M343.10 574v-2.0 M381.04 574v-2.0 M200.8 562.47h3.5 M200.8 527.89h3.5 M200.8 493.30h3.5 M200.8 458.71h3.5 M200.8 424.13h3.5 M200.8 545.18h2.0 M200.8 510.59h2.0 M200.8 476.01h2.0 M200.8 441.42h2.0" stroke="#000" stroke-width="1.3" fill="none"/>
<text x="210.29" y="585.30" font-size="12.5" text-anchor="middle" fill="#000" font-weight="bold" >0</text>
<text x="248.23" y="585.30" font-size="12.5" text-anchor="middle" fill="#000" font-weight="bold" >2</text>
<text x="286.18" y="585.30" font-size="12.5" text-anchor="middle" fill="#000" font-weight="bold" >4</text>
<text x="324.12" y="585.30" font-size="12.5" text-anchor="middle" fill="#000" font-weight="bold" >6</text>
<text x="362.07" y="585.30" font-size="12.5" text-anchor="middle" fill="#000" font-weight="bold" >8</text>
<text x="400.01" y="585.30" font-size="12.5" text-anchor="middle" fill="#000" font-weight="bold" >10</text>
<text x="199.00" y="566.97" font-size="12.5" text-anchor="end" fill="#000" font-weight="bold" >-300</text>
<text x="199.00" y="532.39" font-size="12.5" text-anchor="end" fill="#000" font-weight="bold" >-150</text>
<text x="199.00" y="497.80" font-size="12.5" text-anchor="end" fill="#000" font-weight="bold" >0</text>
<text x="199.00" y="463.21" font-size="12.5" text-anchor="end" fill="#000" font-weight="bold" >150</text>
<text x="199.00" y="428.63" font-size="12.5" text-anchor="end" fill="#000" font-weight="bold" >300</text>
<text x="141.00" y="423.60" font-size="14.5" text-anchor="start" fill="#000" font-weight="bold" >(h)</text>
<text transform="translate(162.60,497.00) rotate(-90)" x="0" y="0" font-size="14.3" text-anchor="middle" fill="#000" font-weight="bold">Energy (eV)</text>
<text x="297.60" y="599.20" font-size="14.4" text-anchor="middle" fill="#000" font-weight="bold" >Time (ns)</text>
<text x="207.40" y="427.90" font-size="11.9" text-anchor="start" fill="#000" font-weight="bold" >Heat flux: 30 eV/ns</text>
<text x="338.30" y="462.50" font-size="11.6" text-anchor="middle" fill="#555555" font-weight="bold" >Hot</text>
<text x="342.40" y="532.00" font-size="11.6" text-anchor="middle" fill="#8a8a8a" font-weight="bold" >Cold</text>
<circle cx="211.61" cy="492.82" r="2.75" fill="#ff7f86" fill-opacity="0.8" stroke="#ff3640" stroke-opacity="0.8" stroke-width="1.5"/><circle cx="215.71" cy="491.32" r="2.75" fill="#ff7f86" fill-opacity="0.8" stroke="#ff3640" stroke-opacity="0.8" stroke-width="1.5"/><circle cx="219.81" cy="489.83" r="2.75" fill="#ff7f86" fill-opacity="0.8" stroke="#ff3640" stroke-opacity="0.8" stroke-width="1.5"/><circle cx="223.90" cy="488.34" r="2.75" fill="#ff7f86" fill-opacity="0.8" stroke="#ff3640" stroke-opacity="0.8" stroke-width="1.5"/><circle cx="228.00" cy="486.84" r="2.75" fill="#ff7f86" fill-opacity="0.8" stroke="#ff3640" stroke-opacity="0.8" stroke-width="1.5"/><circle cx="232.09" cy="485.35" r="2.75" fill="#ff7f86" fill-opacity="0.8" stroke="#ff3640" stroke-opacity="0.8" stroke-width="1.5"/><circle cx="236.19" cy="483.86" r="2.75" fill="#ff7f86" fill-opacity="0.8" stroke="#ff3640" stroke-opacity="0.8" stroke-width="1.5"/><circle cx="240.28" cy="482.36" r="2.75" fill="#ff7f86" fill-opacity="0.8" stroke="#ff3640" stroke-opacity="0.8" stroke-width="1.5"/><circle cx="244.38" cy="480.87" r="2.75" fill="#ff7f86" fill-opacity="0.8" stroke="#ff3640" stroke-opacity="0.8" stroke-width="1.5"/><circle cx="248.48" cy="479.38" r="2.75" fill="#ff7f86" fill-opacity="0.8" stroke="#ff3640" stroke-opacity="0.8" stroke-width="1.5"/><circle cx="252.57" cy="477.88" r="2.75" fill="#ff7f86" fill-opacity="0.8" stroke="#ff3640" stroke-opacity="0.8" stroke-width="1.5"/><circle cx="256.67" cy="476.39" r="2.75" fill="#ff7f86" fill-opacity="0.8" stroke="#ff3640" stroke-opacity="0.8" stroke-width="1.5"/><circle cx="260.76" cy="474.90" r="2.75" fill="#ff7f86" fill-opacity="0.8" stroke="#ff3640" stroke-opacity="0.8" stroke-width="1.5"/><circle cx="264.86" cy="473.40" r="2.75" fill="#ff7f86" fill-opacity="0.8" stroke="#ff3640" stroke-opacity="0.8" stroke-width="1.5"/><circle cx="268.95" cy="471.91" r="2.75" fill="#ff7f86" fill-opacity="0.8" stroke="#ff3640" stroke-opacity="0.8" stroke-width="1.5"/><circle cx="273.05" cy="470.42" r="2.75" fill="#ff7f86" fill-opacity="0.8" stroke="#ff3640" stroke-opacity="0.8" stroke-width="1.5"/><circle cx="277.14" cy="468.92" r="2.75" fill="#ff7f86" fill-opacity="0.8" stroke="#ff3640" stroke-opacity="0.8" stroke-width="1.5"/><circle cx="281.24" cy="467.43" r="2.75" fill="#ff7f86" fill-opacity="0.8" stroke="#ff3640" stroke-opacity="0.8" stroke-width="1.5"/><circle cx="285.34" cy="465.94" r="2.75" fill="#ff7f86" fill-opacity="0.8" stroke="#ff3640" stroke-opacity="0.8" stroke-width="1.5"/><circle cx="289.43" cy="464.44" r="2.75" fill="#ff7f86" fill-opacity="0.8" stroke="#ff3640" stroke-opacity="0.8" stroke-width="1.5"/><circle cx="293.53" cy="462.95" r="2.75" fill="#ff7f86" fill-opacity="0.8" stroke="#ff3640" stroke-opacity="0.8" stroke-width="1.5"/><circle cx="297.62" cy="461.46" r="2.75" fill="#ff7f86" fill-opacity="0.8" stroke="#ff3640" stroke-opacity="0.8" stroke-width="1.5"/><circle cx="301.72" cy="459.97" r="2.75" fill="#ff7f86" fill-opacity="0.8" stroke="#ff3640" stroke-opacity="0.8" stroke-width="1.5"/><circle cx="305.81" cy="458.47" r="2.75" fill="#ff7f86" fill-opacity="0.8" stroke="#ff3640" stroke-opacity="0.8" stroke-width="1.5"/><circle cx="309.91" cy="456.98" r="2.75" fill="#ff7f86" fill-opacity="0.8" stroke="#ff3640" stroke-opacity="0.8" stroke-width="1.5"/><circle cx="314.01" cy="455.49" r="2.75" fill="#ff7f86" fill-opacity="0.8" stroke="#ff3640" stroke-opacity="0.8" stroke-width="1.5"/><circle cx="318.10" cy="453.99" r="2.75" fill="#ff7f86" fill-opacity="0.8" stroke="#ff3640" stroke-opacity="0.8" stroke-width="1.5"/><circle cx="322.20" cy="452.50" r="2.75" fill="#ff7f86" fill-opacity="0.8" stroke="#ff3640" stroke-opacity="0.8" stroke-width="1.5"/><circle cx="326.29" cy="451.01" r="2.75" fill="#ff7f86" fill-opacity="0.8" stroke="#ff3640" stroke-opacity="0.8" stroke-width="1.5"/><circle cx="330.39" cy="449.51" r="2.75" fill="#ff7f86" fill-opacity="0.8" stroke="#ff3640" stroke-opacity="0.8" stroke-width="1.5"/><circle cx="334.48" cy="448.02" r="2.75" fill="#ff7f86" fill-opacity="0.8" stroke="#ff3640" stroke-opacity="0.8" stroke-width="1.5"/><circle cx="338.58" cy="446.53" r="2.75" fill="#ff7f86" fill-opacity="0.8" stroke="#ff3640" stroke-opacity="0.8" stroke-width="1.5"/><circle cx="342.67" cy="445.03" r="2.75" fill="#ff7f86" fill-opacity="0.8" stroke="#ff3640" stroke-opacity="0.8" stroke-width="1.5"/><circle cx="346.77" cy="443.54" r="2.75" fill="#ff7f86" fill-opacity="0.8" stroke="#ff3640" stroke-opacity="0.8" stroke-width="1.5"/><circle cx="350.87" cy="442.05" r="2.75" fill="#ff7f86" fill-opacity="0.8" stroke="#ff3640" stroke-opacity="0.8" stroke-width="1.5"/><circle cx="354.96" cy="440.55" r="2.75" fill="#ff7f86" fill-opacity="0.8" stroke="#ff3640" stroke-opacity="0.8" stroke-width="1.5"/><circle cx="359.06" cy="439.06" r="2.75" fill="#ff7f86" fill-opacity="0.8" stroke="#ff3640" stroke-opacity="0.8" stroke-width="1.5"/><circle cx="363.15" cy="437.57" r="2.75" fill="#ff7f86" fill-opacity="0.8" stroke="#ff3640" stroke-opacity="0.8" stroke-width="1.5"/><circle cx="367.25" cy="436.07" r="2.75" fill="#ff7f86" fill-opacity="0.8" stroke="#ff3640" stroke-opacity="0.8" stroke-width="1.5"/><circle cx="371.34" cy="434.58" r="2.75" fill="#ff7f86" fill-opacity="0.8" stroke="#ff3640" stroke-opacity="0.8" stroke-width="1.5"/><circle cx="375.44" cy="433.09" r="2.75" fill="#ff7f86" fill-opacity="0.8" stroke="#ff3640" stroke-opacity="0.8" stroke-width="1.5"/><circle cx="379.54" cy="431.59" r="2.75" fill="#ff7f86" fill-opacity="0.8" stroke="#ff3640" stroke-opacity="0.8" stroke-width="1.5"/><circle cx="383.63" cy="430.10" r="2.75" fill="#ff7f86" fill-opacity="0.8" stroke="#ff3640" stroke-opacity="0.8" stroke-width="1.5"/><circle cx="387.73" cy="428.61" r="2.75" fill="#ff7f86" fill-opacity="0.8" stroke="#ff3640" stroke-opacity="0.8" stroke-width="1.5"/><circle cx="391.82" cy="427.11" r="2.75" fill="#ff7f86" fill-opacity="0.8" stroke="#ff3640" stroke-opacity="0.8" stroke-width="1.5"/><circle cx="395.92" cy="425.62" r="2.75" fill="#ff7f86" fill-opacity="0.8" stroke="#ff3640" stroke-opacity="0.8" stroke-width="1.5"/><circle cx="400.01" cy="424.13" r="2.75" fill="#ff7f86" fill-opacity="0.8" stroke="#ff3640" stroke-opacity="0.8" stroke-width="1.5"/><circle cx="211.61" cy="493.78" r="2.75" fill="#8c9eff" fill-opacity="0.8" stroke="#3a5ef7" stroke-opacity="0.8" stroke-width="1.5"/><circle cx="215.71" cy="495.28" r="2.75" fill="#8c9eff" fill-opacity="0.8" stroke="#3a5ef7" stroke-opacity="0.8" stroke-width="1.5"/><circle cx="219.81" cy="496.77" r="2.75" fill="#8c9eff" fill-opacity="0.8" stroke="#3a5ef7" stroke-opacity="0.8" stroke-width="1.5"/><circle cx="223.90" cy="498.26" r="2.75" fill="#8c9eff" fill-opacity="0.8" stroke="#3a5ef7" stroke-opacity="0.8" stroke-width="1.5"/><circle cx="228.00" cy="499.76" r="2.75" fill="#8c9eff" fill-opacity="0.8" stroke="#3a5ef7" stroke-opacity="0.8" stroke-width="1.5"/><circle cx="232.09" cy="501.25" r="2.75" fill="#8c9eff" fill-opacity="0.8" stroke="#3a5ef7" stroke-opacity="0.8" stroke-width="1.5"/><circle cx="236.19" cy="502.74" r="2.75" fill="#8c9eff" fill-opacity="0.8" stroke="#3a5ef7" stroke-opacity="0.8" stroke-width="1.5"/><circle cx="240.28" cy="504.24" r="2.75" fill="#8c9eff" fill-opacity="0.8" stroke="#3a5ef7" stroke-opacity="0.8" stroke-width="1.5"/><circle cx="244.38" cy="505.73" r="2.75" fill="#8c9eff" fill-opacity="0.8" stroke="#3a5ef7" stroke-opacity="0.8" stroke-width="1.5"/><circle cx="248.48" cy="507.22" r="2.75" fill="#8c9eff" fill-opacity="0.8" stroke="#3a5ef7" stroke-opacity="0.8" stroke-width="1.5"/><circle cx="252.57" cy="508.72" r="2.75" fill="#8c9eff" fill-opacity="0.8" stroke="#3a5ef7" stroke-opacity="0.8" stroke-width="1.5"/><circle cx="256.67" cy="510.21" r="2.75" fill="#8c9eff" fill-opacity="0.8" stroke="#3a5ef7" stroke-opacity="0.8" stroke-width="1.5"/><circle cx="260.76" cy="511.70" r="2.75" fill="#8c9eff" fill-opacity="0.8" stroke="#3a5ef7" stroke-opacity="0.8" stroke-width="1.5"/><circle cx="264.86" cy="513.20" r="2.75" fill="#8c9eff" fill-opacity="0.8" stroke="#3a5ef7" stroke-opacity="0.8" stroke-width="1.5"/><circle cx="268.95" cy="514.69" r="2.75" fill="#8c9eff" fill-opacity="0.8" stroke="#3a5ef7" stroke-opacity="0.8" stroke-width="1.5"/><circle cx="273.05" cy="516.18" r="2.75" fill="#8c9eff" fill-opacity="0.8" stroke="#3a5ef7" stroke-opacity="0.8" stroke-width="1.5"/><circle cx="277.14" cy="517.68" r="2.75" fill="#8c9eff" fill-opacity="0.8" stroke="#3a5ef7" stroke-opacity="0.8" stroke-width="1.5"/><circle cx="281.24" cy="519.17" r="2.75" fill="#8c9eff" fill-opacity="0.8" stroke="#3a5ef7" stroke-opacity="0.8" stroke-width="1.5"/><circle cx="285.34" cy="520.66" r="2.75" fill="#8c9eff" fill-opacity="0.8" stroke="#3a5ef7" stroke-opacity="0.8" stroke-width="1.5"/><circle cx="289.43" cy="522.16" r="2.75" fill="#8c9eff" fill-opacity="0.8" stroke="#3a5ef7" stroke-opacity="0.8" stroke-width="1.5"/><circle cx="293.53" cy="523.65" r="2.75" fill="#8c9eff" fill-opacity="0.8" stroke="#3a5ef7" stroke-opacity="0.8" stroke-width="1.5"/><circle cx="297.62" cy="525.14" r="2.75" fill="#8c9eff" fill-opacity="0.8" stroke="#3a5ef7" stroke-opacity="0.8" stroke-width="1.5"/><circle cx="301.72" cy="526.63" r="2.75" fill="#8c9eff" fill-opacity="0.8" stroke="#3a5ef7" stroke-opacity="0.8" stroke-width="1.5"/><circle cx="305.81" cy="528.13" r="2.75" fill="#8c9eff" fill-opacity="0.8" stroke="#3a5ef7" stroke-opacity="0.8" stroke-width="1.5"/><circle cx="309.91" cy="529.62" r="2.75" fill="#8c9eff" fill-opacity="0.8" stroke="#3a5ef7" stroke-opacity="0.8" stroke-width="1.5"/><circle cx="314.01" cy="531.11" r="2.75" fill="#8c9eff" fill-opacity="0.8" stroke="#3a5ef7" stroke-opacity="0.8" stroke-width="1.5"/><circle cx="318.10" cy="532.61" r="2.75" fill="#8c9eff" fill-opacity="0.8" stroke="#3a5ef7" stroke-opacity="0.8" stroke-width="1.5"/><circle cx="322.20" cy="534.10" r="2.75" fill="#8c9eff" fill-opacity="0.8" stroke="#3a5ef7" stroke-opacity="0.8" stroke-width="1.5"/><circle cx="326.29" cy="535.59" r="2.75" fill="#8c9eff" fill-opacity="0.8" stroke="#3a5ef7" stroke-opacity="0.8" stroke-width="1.5"/><circle cx="330.39" cy="537.09" r="2.75" fill="#8c9eff" fill-opacity="0.8" stroke="#3a5ef7" stroke-opacity="0.8" stroke-width="1.5"/><circle cx="334.48" cy="538.58" r="2.75" fill="#8c9eff" fill-opacity="0.8" stroke="#3a5ef7" stroke-opacity="0.8" stroke-width="1.5"/><circle cx="338.58" cy="540.07" r="2.75" fill="#8c9eff" fill-opacity="0.8" stroke="#3a5ef7" stroke-opacity="0.8" stroke-width="1.5"/><circle cx="342.67" cy="541.57" r="2.75" fill="#8c9eff" fill-opacity="0.8" stroke="#3a5ef7" stroke-opacity="0.8" stroke-width="1.5"/><circle cx="346.77" cy="543.06" r="2.75" fill="#8c9eff" fill-opacity="0.8" stroke="#3a5ef7" stroke-opacity="0.8" stroke-width="1.5"/><circle cx="350.87" cy="544.55" r="2.75" fill="#8c9eff" fill-opacity="0.8" stroke="#3a5ef7" stroke-opacity="0.8" stroke-width="1.5"/><circle cx="354.96" cy="546.05" r="2.75" fill="#8c9eff" fill-opacity="0.8" stroke="#3a5ef7" stroke-opacity="0.8" stroke-width="1.5"/><circle cx="359.06" cy="547.54" r="2.75" fill="#8c9eff" fill-opacity="0.8" stroke="#3a5ef7" stroke-opacity="0.8" stroke-width="1.5"/><circle cx="363.15" cy="549.03" r="2.75" fill="#8c9eff" fill-opacity="0.8" stroke="#3a5ef7" stroke-opacity="0.8" stroke-width="1.5"/><circle cx="367.25" cy="550.53" r="2.75" fill="#8c9eff" fill-opacity="0.8" stroke="#3a5ef7" stroke-opacity="0.8" stroke-width="1.5"/><circle cx="371.34" cy="552.02" r="2.75" fill="#8c9eff" fill-opacity="0.8" stroke="#3a5ef7" stroke-opacity="0.8" stroke-width="1.5"/><circle cx="375.44" cy="553.51" r="2.75" fill="#8c9eff" fill-opacity="0.8" stroke="#3a5ef7" stroke-opacity="0.8" stroke-width="1.5"/><circle cx="379.54" cy="555.01" r="2.75" fill="#8c9eff" fill-opacity="0.8" stroke="#3a5ef7" stroke-opacity="0.8" stroke-width="1.5"/><circle cx="383.63" cy="556.50" r="2.75" fill="#8c9eff" fill-opacity="0.8" stroke="#3a5ef7" stroke-opacity="0.8" stroke-width="1.5"/><circle cx="387.73" cy="557.99" r="2.75" fill="#8c9eff" fill-opacity="0.8" stroke="#3a5ef7" stroke-opacity="0.8" stroke-width="1.5"/><circle cx="391.82" cy="559.49" r="2.75" fill="#8c9eff" fill-opacity="0.8" stroke="#3a5ef7" stroke-opacity="0.8" stroke-width="1.5"/><circle cx="395.92" cy="560.98" r="2.75" fill="#8c9eff" fill-opacity="0.8" stroke="#3a5ef7" stroke-opacity="0.8" stroke-width="1.5"/><circle cx="400.01" cy="562.47" r="2.75" fill="#8c9eff" fill-opacity="0.8" stroke="#3a5ef7" stroke-opacity="0.8" stroke-width="1.5"/>
<rect x="200.8" y="615.3" width="208.70" height="160.00" fill="none" stroke="#000" stroke-width="1.7"/>
<path d="M210.29 775.3v-3.5 M248.23 775.3v-3.5 M286.18 775.3v-3.5 M324.12 775.3v-3.5 M362.07 775.3v-3.5 M400.01 775.3v-3.5 M229.26 775.3v-2.0 M267.20 775.3v-2.0 M305.15 775.3v-2.0 M343.10 775.3v-2.0 M381.04 775.3v-2.0 M200.8 766.41h3.5 M200.8 730.86h3.5 M200.8 695.30h3.5 M200.8 659.74h3.5 M200.8 624.19h3.5 M200.8 748.63h2.0 M200.8 713.08h2.0 M200.8 677.52h2.0 M200.8 641.97h2.0" stroke="#000" stroke-width="1.3" fill="none"/>
<text x="210.29" y="787.50" font-size="12.5" text-anchor="middle" fill="#000" font-weight="bold" >0</text>
<text x="248.23" y="787.50" font-size="12.5" text-anchor="middle" fill="#000" font-weight="bold" >2</text>
<text x="286.18" y="787.50" font-size="12.5" text-anchor="middle" fill="#000" font-weight="bold" >4</text>
<text x="324.12" y="787.50" font-size="12.5" text-anchor="middle" fill="#000" font-weight="bold" >6</text>
<text x="362.07" y="787.50" font-size="12.5" text-anchor="middle" fill="#000" font-weight="bold" >8</text>
<text x="400.01" y="787.50" font-size="12.5" text-anchor="middle" fill="#000" font-weight="bold" >10</text>
<text x="199.00" y="770.91" font-size="12.5" text-anchor="end" fill="#000" font-weight="bold" >-4000</text>
<text x="199.00" y="735.36" font-size="12.5" text-anchor="end" fill="#000" font-weight="bold" >-2000</text>
<text x="199.00" y="699.80" font-size="12.5" text-anchor="end" fill="#000" font-weight="bold" >0</text>
<text x="199.00" y="664.24" font-size="12.5" text-anchor="end" fill="#000" font-weight="bold" >2000</text>
<text x="199.00" y="628.69" font-size="12.5" text-anchor="end" fill="#000" font-weight="bold" >4000</text>
<text x="141.00" y="627.30" font-size="14.5" text-anchor="start" fill="#000" font-weight="bold" >(k)</text>
<text transform="translate(162.60,700.90) rotate(-90)" x="0" y="0" font-size="14.3" text-anchor="middle" fill="#000" font-weight="bold">Energy (eV)</text>
<text x="297.60" y="804.30" font-size="14.4" text-anchor="middle" fill="#000" font-weight="bold" >Time (ns)</text>
<text x="207.40" y="632.80" font-size="11.9" text-anchor="start" fill="#000" font-weight="bold" >Heat flux: 400 eV/ns</text>
<text x="338.30" y="664.70" font-size="11.6" text-anchor="middle" fill="#555555" font-weight="bold" >Hot</text>
<text x="342.40" y="732.20" font-size="11.6" text-anchor="middle" fill="#8a8a8a" font-weight="bold" >Cold</text>
<circle cx="211.61" cy="694.80" r="2.75" fill="#ff7f86" fill-opacity="0.8" stroke="#ff3640" stroke-opacity="0.8" stroke-width="1.5"/><circle cx="215.71" cy="693.27" r="2.75" fill="#ff7f86" fill-opacity="0.8" stroke="#ff3640" stroke-opacity="0.8" stroke-width="1.5"/><circle cx="219.81" cy="691.73" r="2.75" fill="#ff7f86" fill-opacity="0.8" stroke="#ff3640" stroke-opacity="0.8" stroke-width="1.5"/><circle cx="223.90" cy="690.20" r="2.75" fill="#ff7f86" fill-opacity="0.8" stroke="#ff3640" stroke-opacity="0.8" stroke-width="1.5"/><circle cx="228.00" cy="688.66" r="2.75" fill="#ff7f86" fill-opacity="0.8" stroke="#ff3640" stroke-opacity="0.8" stroke-width="1.5"/><circle cx="232.09" cy="687.13" r="2.75" fill="#ff7f86" fill-opacity="0.8" stroke="#ff3640" stroke-opacity="0.8" stroke-width="1.5"/><circle cx="236.19" cy="685.59" r="2.75" fill="#ff7f86" fill-opacity="0.8" stroke="#ff3640" stroke-opacity="0.8" stroke-width="1.5"/><circle cx="240.28" cy="684.06" r="2.75" fill="#ff7f86" fill-opacity="0.8" stroke="#ff3640" stroke-opacity="0.8" stroke-width="1.5"/><circle cx="244.38" cy="682.52" r="2.75" fill="#ff7f86" fill-opacity="0.8" stroke="#ff3640" stroke-opacity="0.8" stroke-width="1.5"/><circle cx="248.48" cy="680.99" r="2.75" fill="#ff7f86" fill-opacity="0.8" stroke="#ff3640" stroke-opacity="0.8" stroke-width="1.5"/><circle cx="252.57" cy="679.45" r="2.75" fill="#ff7f86" fill-opacity="0.8" stroke="#ff3640" stroke-opacity="0.8" stroke-width="1.5"/><circle cx="256.67" cy="677.92" r="2.75" fill="#ff7f86" fill-opacity="0.8" stroke="#ff3640" stroke-opacity="0.8" stroke-width="1.5"/><circle cx="260.76" cy="676.38" r="2.75" fill="#ff7f86" fill-opacity="0.8" stroke="#ff3640" stroke-opacity="0.8" stroke-width="1.5"/><circle cx="264.86" cy="674.85" r="2.75" fill="#ff7f86" fill-opacity="0.8" stroke="#ff3640" stroke-opacity="0.8" stroke-width="1.5"/><circle cx="268.95" cy="673.31" r="2.75" fill="#ff7f86" fill-opacity="0.8" stroke="#ff3640" stroke-opacity="0.8" stroke-width="1.5"/><circle cx="273.05" cy="671.78" r="2.75" fill="#ff7f86" fill-opacity="0.8" stroke="#ff3640" stroke-opacity="0.8" stroke-width="1.5"/><circle cx="277.14" cy="670.24" r="2.75" fill="#ff7f86" fill-opacity="0.8" stroke="#ff3640" stroke-opacity="0.8" stroke-width="1.5"/><circle cx="281.24" cy="668.71" r="2.75" fill="#ff7f86" fill-opacity="0.8" stroke="#ff3640" stroke-opacity="0.8" stroke-width="1.5"/><circle cx="285.34" cy="667.17" r="2.75" fill="#ff7f86" fill-opacity="0.8" stroke="#ff3640" stroke-opacity="0.8" stroke-width="1.5"/><circle cx="289.43" cy="665.64" r="2.75" fill="#ff7f86" fill-opacity="0.8" stroke="#ff3640" stroke-opacity="0.8" stroke-width="1.5"/><circle cx="293.53" cy="664.10" r="2.75" fill="#ff7f86" fill-opacity="0.8" stroke="#ff3640" stroke-opacity="0.8" stroke-width="1.5"/><circle cx="297.62" cy="662.57" r="2.75" fill="#ff7f86" fill-opacity="0.8" stroke="#ff3640" stroke-opacity="0.8" stroke-width="1.5"/><circle cx="301.72" cy="661.03" r="2.75" fill="#ff7f86" fill-opacity="0.8" stroke="#ff3640" stroke-opacity="0.8" stroke-width="1.5"/><circle cx="305.81" cy="659.50" r="2.75" fill="#ff7f86" fill-opacity="0.8" stroke="#ff3640" stroke-opacity="0.8" stroke-width="1.5"/><circle cx="309.91" cy="657.96" r="2.75" fill="#ff7f86" fill-opacity="0.8" stroke="#ff3640" stroke-opacity="0.8" stroke-width="1.5"/><circle cx="314.01" cy="656.43" r="2.75" fill="#ff7f86" fill-opacity="0.8" stroke="#ff3640" stroke-opacity="0.8" stroke-width="1.5"/><circle cx="318.10" cy="654.89" r="2.75" fill="#ff7f86" fill-opacity="0.8" stroke="#ff3640" stroke-opacity="0.8" stroke-width="1.5"/><circle cx="322.20" cy="653.36" r="2.75" fill="#ff7f86" fill-opacity="0.8" stroke="#ff3640" stroke-opacity="0.8" stroke-width="1.5"/><circle cx="326.29" cy="651.82" r="2.75" fill="#ff7f86" fill-opacity="0.8" stroke="#ff3640" stroke-opacity="0.8" stroke-width="1.5"/><circle cx="330.39" cy="650.29" r="2.75" fill="#ff7f86" fill-opacity="0.8" stroke="#ff3640" stroke-opacity="0.8" stroke-width="1.5"/><circle cx="334.48" cy="648.75" r="2.75" fill="#ff7f86" fill-opacity="0.8" stroke="#ff3640" stroke-opacity="0.8" stroke-width="1.5"/><circle cx="338.58" cy="647.21" r="2.75" fill="#ff7f86" fill-opacity="0.8" stroke="#ff3640" stroke-opacity="0.8" stroke-width="1.5"/><circle cx="342.67" cy="645.68" r="2.75" fill="#ff7f86" fill-opacity="0.8" stroke="#ff3640" stroke-opacity="0.8" stroke-width="1.5"/><circle cx="346.77" cy="644.14" r="2.75" fill="#ff7f86" fill-opacity="0.8" stroke="#ff3640" stroke-opacity="0.8" stroke-width="1.5"/><circle cx="350.87" cy="642.61" r="2.75" fill="#ff7f86" fill-opacity="0.8" stroke="#ff3640" stroke-opacity="0.8" stroke-width="1.5"/><circle cx="354.96" cy="641.07" r="2.75" fill="#ff7f86" fill-opacity="0.8" stroke="#ff3640" stroke-opacity="0.8" stroke-width="1.5"/><circle cx="359.06" cy="639.54" r="2.75" fill="#ff7f86" fill-opacity="0.8" stroke="#ff3640" stroke-opacity="0.8" stroke-width="1.5"/><circle cx="363.15" cy="638.00" r="2.75" fill="#ff7f86" fill-opacity="0.8" stroke="#ff3640" stroke-opacity="0.8" stroke-width="1.5"/><circle cx="367.25" cy="636.47" r="2.75" fill="#ff7f86" fill-opacity="0.8" stroke="#ff3640" stroke-opacity="0.8" stroke-width="1.5"/><circle cx="371.34" cy="634.93" r="2.75" fill="#ff7f86" fill-opacity="0.8" stroke="#ff3640" stroke-opacity="0.8" stroke-width="1.5"/><circle cx="375.44" cy="633.40" r="2.75" fill="#ff7f86" fill-opacity="0.8" stroke="#ff3640" stroke-opacity="0.8" stroke-width="1.5"/><circle cx="379.54" cy="631.86" r="2.75" fill="#ff7f86" fill-opacity="0.8" stroke="#ff3640" stroke-opacity="0.8" stroke-width="1.5"/><circle cx="383.63" cy="630.33" r="2.75" fill="#ff7f86" fill-opacity="0.8" stroke="#ff3640" stroke-opacity="0.8" stroke-width="1.5"/><circle cx="387.73" cy="628.79" r="2.75" fill="#ff7f86" fill-opacity="0.8" stroke="#ff3640" stroke-opacity="0.8" stroke-width="1.5"/><circle cx="391.82" cy="627.26" r="2.75" fill="#ff7f86" fill-opacity="0.8" stroke="#ff3640" stroke-opacity="0.8" stroke-width="1.5"/><circle cx="395.92" cy="625.72" r="2.75" fill="#ff7f86" fill-opacity="0.8" stroke="#ff3640" stroke-opacity="0.8" stroke-width="1.5"/><circle cx="400.01" cy="624.19" r="2.75" fill="#ff7f86" fill-opacity="0.8" stroke="#ff3640" stroke-opacity="0.8" stroke-width="1.5"/><circle cx="211.61" cy="695.80" r="2.75" fill="#8c9eff" fill-opacity="0.8" stroke="#3a5ef7" stroke-opacity="0.8" stroke-width="1.5"/><circle cx="215.71" cy="697.33" r="2.75" fill="#8c9eff" fill-opacity="0.8" stroke="#3a5ef7" stroke-opacity="0.8" stroke-width="1.5"/><circle cx="219.81" cy="698.87" r="2.75" fill="#8c9eff" fill-opacity="0.8" stroke="#3a5ef7" stroke-opacity="0.8" stroke-width="1.5"/><circle cx="223.90" cy="700.40" r="2.75" fill="#8c9eff" fill-opacity="0.8" stroke="#3a5ef7" stroke-opacity="0.8" stroke-width="1.5"/><circle cx="228.00" cy="701.94" r="2.75" fill="#8c9eff" fill-opacity="0.8" stroke="#3a5ef7" stroke-opacity="0.8" stroke-width="1.5"/><circle cx="232.09" cy="703.47" r="2.75" fill="#8c9eff" fill-opacity="0.8" stroke="#3a5ef7" stroke-opacity="0.8" stroke-width="1.5"/><circle cx="236.19" cy="705.01" r="2.75" fill="#8c9eff" fill-opacity="0.8" stroke="#3a5ef7" stroke-opacity="0.8" stroke-width="1.5"/><circle cx="240.28" cy="706.54" r="2.75" fill="#8c9eff" fill-opacity="0.8" stroke="#3a5ef7" stroke-opacity="0.8" stroke-width="1.5"/><circle cx="244.38" cy="708.08" r="2.75" fill="#8c9eff" fill-opacity="0.8" stroke="#3a5ef7" stroke-opacity="0.8" stroke-width="1.5"/><circle cx="248.48" cy="709.61" r="2.75" fill="#8c9eff" fill-opacity="0.8" stroke="#3a5ef7" stroke-opacity="0.8" stroke-width="1.5"/><circle cx="252.57" cy="711.15" r="2.75" fill="#8c9eff" fill-opacity="0.8" stroke="#3a5ef7" stroke-opacity="0.8" stroke-width="1.5"/><circle cx="256.67" cy="712.68" r="2.75" fill="#8c9eff" fill-opacity="0.8" stroke="#3a5ef7" stroke-opacity="0.8" stroke-width="1.5"/><circle cx="260.76" cy="714.22" r="2.75" fill="#8c9eff" fill-opacity="0.8" stroke="#3a5ef7" stroke-opacity="0.8" stroke-width="1.5"/><circle cx="264.86" cy="715.75" r="2.75" fill="#8c9eff" fill-opacity="0.8" stroke="#3a5ef7" stroke-opacity="0.8" stroke-width="1.5"/><circle cx="268.95" cy="717.29" r="2.75" fill="#8c9eff" fill-opacity="0.8" stroke="#3a5ef7" stroke-opacity="0.8" stroke-width="1.5"/><circle cx="273.05" cy="718.82" r="2.75" fill="#8c9eff" fill-opacity="0.8" stroke="#3a5ef7" stroke-opacity="0.8" stroke-width="1.5"/><circle cx="277.14" cy="720.36" r="2.75" fill="#8c9eff" fill-opacity="0.8" stroke="#3a5ef7" stroke-opacity="0.8" stroke-width="1.5"/><circle cx="281.24" cy="721.89" r="2.75" fill="#8c9eff" fill-opacity="0.8" stroke="#3a5ef7" stroke-opacity="0.8" stroke-width="1.5"/><circle cx="285.34" cy="723.43" r="2.75" fill="#8c9eff" fill-opacity="0.8" stroke="#3a5ef7" stroke-opacity="0.8" stroke-width="1.5"/><circle cx="289.43" cy="724.96" r="2.75" fill="#8c9eff" fill-opacity="0.8" stroke="#3a5ef7" stroke-opacity="0.8" stroke-width="1.5"/><circle cx="293.53" cy="726.50" r="2.75" fill="#8c9eff" fill-opacity="0.8" stroke="#3a5ef7" stroke-opacity="0.8" stroke-width="1.5"/><circle cx="297.62" cy="728.03" r="2.75" fill="#8c9eff" fill-opacity="0.8" stroke="#3a5ef7" stroke-opacity="0.8" stroke-width="1.5"/><circle cx="301.72" cy="729.57" r="2.75" fill="#8c9eff" fill-opacity="0.8" stroke="#3a5ef7" stroke-opacity="0.8" stroke-width="1.5"/><circle cx="305.81" cy="731.10" r="2.75" fill="#8c9eff" fill-opacity="0.8" stroke="#3a5ef7" stroke-opacity="0.8" stroke-width="1.5"/><circle cx="309.91" cy="732.64" r="2.75" fill="#8c9eff" fill-opacity="0.8" stroke="#3a5ef7" stroke-opacity="0.8" stroke-width="1.5"/><circle cx="314.01" cy="734.17" r="2.75" fill="#8c9eff" fill-opacity="0.8" stroke="#3a5ef7" stroke-opacity="0.8" stroke-width="1.5"/><circle cx="318.10" cy="735.71" r="2.75" fill="#8c9eff" fill-opacity="0.8" stroke="#3a5ef7" stroke-opacity="0.8" stroke-width="1.5"/><circle cx="322.20" cy="737.24" r="2.75" fill="#8c9eff" fill-opacity="0.8" stroke="#3a5ef7" stroke-opacity="0.8" stroke-width="1.5"/><circle cx="326.29" cy="738.78" r="2.75" fill="#8c9eff" fill-opacity="0.8" stroke="#3a5ef7" stroke-opacity="0.8" stroke-width="1.5"/><circle cx="330.39" cy="740.31" r="2.75" fill="#8c9eff" fill-opacity="0.8" stroke="#3a5ef7" stroke-opacity="0.8" stroke-width="1.5"/><circle cx="334.48" cy="741.85" r="2.75" fill="#8c9eff" fill-opacity="0.8" stroke="#3a5ef7" stroke-opacity="0.8" stroke-width="1.5"/><circle cx="338.58" cy="743.39" r="2.75" fill="#8c9eff" fill-opacity="0.8" stroke="#3a5ef7" stroke-opacity="0.8" stroke-width="1.5"/><circle cx="342.67" cy="744.92" r="2.75" fill="#8c9eff" fill-opacity="0.8" stroke="#3a5ef7" stroke-opacity="0.8" stroke-width="1.5"/><circle cx="346.77" cy="746.46" r="2.75" fill="#8c9eff" fill-opacity="0.8" stroke="#3a5ef7" stroke-opacity="0.8" stroke-width="1.5"/><circle cx="350.87" cy="747.99" r="2.75" fill="#8c9eff" fill-opacity="0.8" stroke="#3a5ef7" stroke-opacity="0.8" stroke-width="1.5"/><circle cx="354.96" cy="749.53" r="2.75" fill="#8c9eff" fill-opacity="0.8" stroke="#3a5ef7" stroke-opacity="0.8" stroke-width="1.5"/><circle cx="359.06" cy="751.06" r="2.75" fill="#8c9eff" fill-opacity="0.8" stroke="#3a5ef7" stroke-opacity="0.8" stroke-width="1.5"/><circle cx="363.15" cy="752.60" r="2.75" fill="#8c9eff" fill-opacity="0.8" stroke="#3a5ef7" stroke-opacity="0.8" stroke-width="1.5"/><circle cx="367.25" cy="754.13" r="2.75" fill="#8c9eff" fill-opacity="0.8" stroke="#3a5ef7" stroke-opacity="0.8" stroke-width="1.5"/><circle cx="371.34" cy="755.67" r="2.75" fill="#8c9eff" fill-opacity="0.8" stroke="#3a5ef7" stroke-opacity="0.8" stroke-width="1.5"/><circle cx="375.44" cy="757.20" r="2.75" fill="#8c9eff" fill-opacity="0.8" stroke="#3a5ef7" stroke-opacity="0.8" stroke-width="1.5"/><circle cx="379.54" cy="758.74" r="2.75" fill="#8c9eff" fill-opacity="0.8" stroke="#3a5ef7" stroke-opacity="0.8" stroke-width="1.5"/><circle cx="383.63" cy="760.27" r="2.75" fill="#8c9eff" fill-opacity="0.8" stroke="#3a5ef7" stroke-opacity="0.8" stroke-width="1.5"/><circle cx="387.73" cy="761.81" r="2.75" fill="#8c9eff" fill-opacity="0.8" stroke="#3a5ef7" stroke-opacity="0.8" stroke-width="1.5"/><circle cx="391.82" cy="763.34" r="2.75" fill="#8c9eff" fill-opacity="0.8" stroke="#3a5ef7" stroke-opacity="0.8" stroke-width="1.5"/><circle cx="395.92" cy="764.88" r="2.75" fill="#8c9eff" fill-opacity="0.8" stroke="#3a5ef7" stroke-opacity="0.8" stroke-width="1.5"/><circle cx="400.01" cy="766.41" r="2.75" fill="#8c9eff" fill-opacity="0.8" stroke="#3a5ef7" stroke-opacity="0.8" stroke-width="1.5"/>
<rect x="465.3" y="211.3" width="210.40" height="159.70" fill="none" stroke="#000" stroke-width="1.7"/>
<path d="M475.32 371v-3.5 M525.41 371v-3.5 M575.51 371v-3.5 M625.60 371v-3.5 M675.70 371v-3.5 M500.37 371v-2.0 M550.46 371v-2.0 M600.56 371v-2.0 M650.65 371v-2.0 M465.3 351.04h3.5 M465.3 317.77h3.5 M465.3 284.50h3.5 M465.3 251.23h3.5 M465.3 217.95h3.5 M465.3 367.67h2.0 M465.3 334.40h2.0 M465.3 301.13h2.0 M465.3 267.86h2.0 M465.3 234.59h2.0" stroke="#000" stroke-width="1.3" fill="none"/>
<text x="475.32" y="384.40" font-size="12" text-anchor="middle" fill="#000" font-weight="bold" >0</text>
<text x="525.41" y="384.40" font-size="12" text-anchor="middle" fill="#000" font-weight="bold" >50</text>
<text x="575.51" y="384.40" font-size="12" text-anchor="middle" fill="#000" font-weight="bold" >100</text>
<text x="625.60" y="384.40" font-size="12" text-anchor="middle" fill="#000" font-weight="bold" >150</text>
<text x="675.70" y="384.40" font-size="12" text-anchor="middle" fill="#000" font-weight="bold" >200</text>
<text x="458.10" y="355.36" font-size="12" text-anchor="end" fill="#000" font-weight="bold" >275</text>
<text x="458.10" y="322.09" font-size="12" text-anchor="end" fill="#000" font-weight="bold" >300</text>
<text x="458.10" y="288.82" font-size="12" text-anchor="end" fill="#000" font-weight="bold" >325</text>
<text x="458.10" y="255.55" font-size="12" text-anchor="end" fill="#000" font-weight="bold" >350</text>
<text x="458.10" y="222.27" font-size="12" text-anchor="end" fill="#000" font-weight="bold" >375</text>
<text x="417.50" y="222.00" font-size="14.5" text-anchor="start" fill="#000" font-weight="bold" >(f)</text>
<text transform="translate(432.00,291.65) rotate(-90)" x="0" y="0" font-size="14.2" text-anchor="middle" fill="#000" font-weight="bold">Temperature (K)</text>
<text x="578.50" y="398.50" font-size="14.6" text-anchor="middle" fill="#000" font-weight="bold" >Position (Å)</text>
<circle cx="475.32" cy="223.61" r="1.55" fill="#ff9096" fill-opacity="0.6" stroke="#ff4a52" stroke-opacity="0.85" stroke-width="0.9"/><circle cx="477.30" cy="225.38" r="1.55" fill="#ff9096" fill-opacity="0.6" stroke="#ff4a52" stroke-opacity="0.85" stroke-width="0.9"/><circle cx="479.28" cy="225.91" r="1.55" fill="#ff9096" fill-opacity="0.6" stroke="#ff4a52" stroke-opacity="0.85" stroke-width="0.9"/><circle cx="481.26" cy="228.44" r="1.55" fill="#ff9096" fill-opacity="0.6" stroke="#ff4a52" stroke-opacity="0.85" stroke-width="0.9"/><circle cx="483.24" cy="229.03" r="1.55" fill="#ff9096" fill-opacity="0.6" stroke="#ff4a52" stroke-opacity="0.85" stroke-width="0.9"/><circle cx="485.22" cy="230.80" r="1.55" fill="#ff9096" fill-opacity="0.6" stroke="#ff4a52" stroke-opacity="0.85" stroke-width="0.9"/><circle cx="487.20" cy="232.83" r="1.55" fill="#ff9096" fill-opacity="0.6" stroke="#ff4a52" stroke-opacity="0.85" stroke-width="0.9"/><circle cx="489.18" cy="233.45" r="1.55" fill="#ff9096" fill-opacity="0.6" stroke="#ff4a52" stroke-opacity="0.85" stroke-width="0.9"/><circle cx="491.16" cy="235.78" r="1.55" fill="#ff9096" fill-opacity="0.6" stroke="#ff4a52" stroke-opacity="0.85" stroke-width="0.9"/><circle cx="493.14" cy="236.49" r="1.55" fill="#ff9096" fill-opacity="0.6" stroke="#ff4a52" stroke-opacity="0.85" stroke-width="0.9"/><circle cx="495.12" cy="238.63" r="1.55" fill="#ff9096" fill-opacity="0.6" stroke="#ff4a52" stroke-opacity="0.85" stroke-width="0.9"/><circle cx="497.10" cy="240.04" r="1.55" fill="#ff9096" fill-opacity="0.6" stroke="#ff4a52" stroke-opacity="0.85" stroke-width="0.9"/><circle cx="499.09" cy="240.87" r="1.55" fill="#ff9096" fill-opacity="0.6" stroke="#ff4a52" stroke-opacity="0.85" stroke-width="0.9"/><circle cx="501.07" cy="241.58" r="1.55" fill="#ff9096" fill-opacity="0.6" stroke="#ff4a52" stroke-opacity="0.85" stroke-width="0.9"/><circle cx="503.05" cy="244.34" r="1.55" fill="#ff9096" fill-opacity="0.6" stroke="#ff4a52" stroke-opacity="0.85" stroke-width="0.9"/><circle cx="505.03" cy="245.61" r="1.55" fill="#ff9096" fill-opacity="0.6" stroke="#ff4a52" stroke-opacity="0.85" stroke-width="0.9"/><circle cx="507.01" cy="246.31" r="1.55" fill="#ff9096" fill-opacity="0.6" stroke="#ff4a52" stroke-opacity="0.85" stroke-width="0.9"/><circle cx="508.99" cy="247.17" r="1.55" fill="#ff9096" fill-opacity="0.6" stroke="#ff4a52" stroke-opacity="0.85" stroke-width="0.9"/><circle cx="510.97" cy="249.32" r="1.55" fill="#ff9096" fill-opacity="0.6" stroke="#ff4a52" stroke-opacity="0.85" stroke-width="0.9"/><circle cx="512.95" cy="251.11" r="1.55" fill="#ff9096" fill-opacity="0.6" stroke="#ff4a52" stroke-opacity="0.85" stroke-width="0.9"/><circle cx="514.93" cy="251.48" r="1.55" fill="#ff9096" fill-opacity="0.6" stroke="#ff4a52" stroke-opacity="0.85" stroke-width="0.9"/><circle cx="516.91" cy="254.67" r="1.55" fill="#ff9096" fill-opacity="0.6" stroke="#ff4a52" stroke-opacity="0.85" stroke-width="0.9"/><circle cx="518.89" cy="254.61" r="1.55" fill="#ff9096" fill-opacity="0.6" stroke="#ff4a52" stroke-opacity="0.85" stroke-width="0.9"/><circle cx="520.87" cy="257.13" r="1.55" fill="#ff9096" fill-opacity="0.6" stroke="#ff4a52" stroke-opacity="0.85" stroke-width="0.9"/><circle cx="522.85" cy="258.85" r="1.55" fill="#ff9096" fill-opacity="0.6" stroke="#ff4a52" stroke-opacity="0.85" stroke-width="0.9"/><circle cx="524.83" cy="260.36" r="1.55" fill="#ff9096" fill-opacity="0.6" stroke="#ff4a52" stroke-opacity="0.85" stroke-width="0.9"/><circle cx="526.81" cy="261.45" r="1.55" fill="#ff9096" fill-opacity="0.6" stroke="#ff4a52" stroke-opacity="0.85" stroke-width="0.9"/><circle cx="528.79" cy="261.96" r="1.55" fill="#ff9096" fill-opacity="0.6" stroke="#ff4a52" stroke-opacity="0.85" stroke-width="0.9"/><circle cx="530.77" cy="264.60" r="1.55" fill="#ff9096" fill-opacity="0.6" stroke="#ff4a52" stroke-opacity="0.85" stroke-width="0.9"/><circle cx="532.75" cy="265.31" r="1.55" fill="#ff9096" fill-opacity="0.6" stroke="#ff4a52" stroke-opacity="0.85" stroke-width="0.9"/><circle cx="534.73" cy="266.66" r="1.55" fill="#ff9096" fill-opacity="0.6" stroke="#ff4a52" stroke-opacity="0.85" stroke-width="0.9"/><circle cx="536.71" cy="268.61" r="1.55" fill="#ff9096" fill-opacity="0.6" stroke="#ff4a52" stroke-opacity="0.85" stroke-width="0.9"/><circle cx="538.70" cy="269.74" r="1.55" fill="#ff9096" fill-opacity="0.6" stroke="#ff4a52" stroke-opacity="0.85" stroke-width="0.9"/><circle cx="540.68" cy="272.09" r="1.55" fill="#ff9096" fill-opacity="0.6" stroke="#ff4a52" stroke-opacity="0.85" stroke-width="0.9"/><circle cx="542.66" cy="273.56" r="1.55" fill="#ff9096" fill-opacity="0.6" stroke="#ff4a52" stroke-opacity="0.85" stroke-width="0.9"/><circle cx="544.64" cy="274.74" r="1.55" fill="#ff9096" fill-opacity="0.6" stroke="#ff4a52" stroke-opacity="0.85" stroke-width="0.9"/><circle cx="546.62" cy="275.31" r="1.55" fill="#ff9096" fill-opacity="0.6" stroke="#ff4a52" stroke-opacity="0.85" stroke-width="0.9"/><circle cx="548.60" cy="277.23" r="1.55" fill="#ff9096" fill-opacity="0.6" stroke="#ff4a52" stroke-opacity="0.85" stroke-width="0.9"/><circle cx="550.58" cy="278.90" r="1.55" fill="#ff9096" fill-opacity="0.6" stroke="#ff4a52" stroke-opacity="0.85" stroke-width="0.9"/><circle cx="552.56" cy="279.85" r="1.55" fill="#ff9096" fill-opacity="0.6" stroke="#ff4a52" stroke-opacity="0.85" stroke-width="0.9"/><circle cx="554.54" cy="281.55" r="1.55" fill="#ff9096" fill-opacity="0.6" stroke="#ff4a52" stroke-opacity="0.85" stroke-width="0.9"/><circle cx="556.52" cy="283.29" r="1.55" fill="#ff9096" fill-opacity="0.6" stroke="#ff4a52" stroke-opacity="0.85" stroke-width="0.9"/><circle cx="558.50" cy="283.82" r="1.55" fill="#ff9096" fill-opacity="0.6" stroke="#ff4a52" stroke-opacity="0.85" stroke-width="0.9"/><circle cx="560.48" cy="285.46" r="1.55" fill="#ff9096" fill-opacity="0.6" stroke="#ff4a52" stroke-opacity="0.85" stroke-width="0.9"/>
<circle cx="562.48" cy="338.67" r="1.55" fill="#98a8ff" fill-opacity="0.6" stroke="#4a62f5" stroke-opacity="0.85" stroke-width="0.9"/><circle cx="564.47" cy="338.61" r="1.55" fill="#98a8ff" fill-opacity="0.6" stroke="#4a62f5" stroke-opacity="0.85" stroke-width="0.9"/><circle cx="566.45" cy="339.16" r="1.55" fill="#98a8ff" fill-opacity="0.6" stroke="#4a62f5" stroke-opacity="0.85" stroke-width="0.9"/><circle cx="568.43" cy="339.06" r="1.55" fill="#98a8ff" fill-opacity="0.6" stroke="#4a62f5" stroke-opacity="0.85" stroke-width="0.9"/><circle cx="570.41" cy="339.76" r="1.55" fill="#98a8ff" fill-opacity="0.6" stroke="#4a62f5" stroke-opacity="0.85" stroke-width="0.9"/><circle cx="572.39" cy="340.94" r="1.55" fill="#98a8ff" fill-opacity="0.6" stroke="#4a62f5" stroke-opacity="0.85" stroke-width="0.9"/><circle cx="574.37" cy="340.30" r="1.55" fill="#98a8ff" fill-opacity="0.6" stroke="#4a62f5" stroke-opacity="0.85" stroke-width="0.9"/><circle cx="576.35" cy="342.14" r="1.55" fill="#98a8ff" fill-opacity="0.6" stroke="#4a62f5" stroke-opacity="0.85" stroke-width="0.9"/><circle cx="578.33" cy="342.13" r="1.55" fill="#98a8ff" fill-opacity="0.6" stroke="#4a62f5" stroke-opacity="0.85" stroke-width="0.9"/><circle cx="580.31" cy="342.06" r="1.55" fill="#98a8ff" fill-opacity="0.6" stroke="#4a62f5" stroke-opacity="0.85" stroke-width="0.9"/><circle cx="582.29" cy="343.49" r="1.55" fill="#98a8ff" fill-opacity="0.6" stroke="#4a62f5" stroke-opacity="0.85" stroke-width="0.9"/><circle cx="584.27" cy="343.42" r="1.55" fill="#98a8ff" fill-opacity="0.6" stroke="#4a62f5" stroke-opacity="0.85" stroke-width="0.9"/><circle cx="586.25" cy="344.61" r="1.55" fill="#98a8ff" fill-opacity="0.6" stroke="#4a62f5" stroke-opacity="0.85" stroke-width="0.9"/><circle cx="588.23" cy="344.07" r="1.55" fill="#98a8ff" fill-opacity="0.6" stroke="#4a62f5" stroke-opacity="0.85" stroke-width="0.9"/><circle cx="590.21" cy="344.38" r="1.55" fill="#98a8ff" fill-opacity="0.6" stroke="#4a62f5" stroke-opacity="0.85" stroke-width="0.9"/><circle cx="592.19" cy="345.15" r="1.55" fill="#98a8ff" fill-opacity="0.6" stroke="#4a62f5" stroke-opacity="0.85" stroke-width="0.9"/><circle cx="594.17" cy="345.14" r="1.55" fill="#98a8ff" fill-opacity="0.6" stroke="#4a62f5" stroke-opacity="0.85" stroke-width="0.9"/><circle cx="596.15" cy="346.50" r="1.55" fill="#98a8ff" fill-opacity="0.6" stroke="#4a62f5" stroke-opacity="0.85" stroke-width="0.9"/><circle cx="598.13" cy="346.36" r="1.55" fill="#98a8ff" fill-opacity="0.6" stroke="#4a62f5" stroke-opacity="0.85" stroke-width="0.9"/><circle cx="600.11" cy="346.99" r="1.55" fill="#98a8ff" fill-opacity="0.6" stroke="#4a62f5" stroke-opacity="0.85" stroke-width="0.9"/><circle cx="602.09" cy="347.48" r="1.55" fill="#98a8ff" fill-opacity="0.6" stroke="#4a62f5" stroke-opacity="0.85" stroke-width="0.9"/><circle cx="604.08" cy="348.15" r="1.55" fill="#98a8ff" fill-opacity="0.6" stroke="#4a62f5" stroke-opacity="0.85" stroke-width="0.9"/><circle cx="606.06" cy="348.00" r="1.55" fill="#98a8ff" fill-opacity="0.6" stroke="#4a62f5" stroke-opacity="0.85" stroke-width="0.9"/><circle cx="608.04" cy="348.30" r="1.55" fill="#98a8ff" fill-opacity="0.6" stroke="#4a62f5" stroke-opacity="0.85" stroke-width="0.9"/><circle cx="610.02" cy="349.52" r="1.55" fill="#98a8ff" fill-opacity="0.6" stroke="#4a62f5" stroke-opacity="0.85" stroke-width="0.9"/><circle cx="612.00" cy="349.68" r="1.55" fill="#98a8ff" fill-opacity="0.6" stroke="#4a62f5" stroke-opacity="0.85" stroke-width="0.9"/><circle cx="613.98" cy="351.11" r="1.55" fill="#98a8ff" fill-opacity="0.6" stroke="#4a62f5" stroke-opacity="0.85" stroke-width="0.9"/><circle cx="615.96" cy="350.56" r="1.55" fill="#98a8ff" fill-opacity="0.6" stroke="#4a62f5" stroke-opacity="0.85" stroke-width="0.9"/><circle cx="617.94" cy="351.11" r="1.55" fill="#98a8ff" fill-opacity="0.6" stroke="#4a62f5" stroke-opacity="0.85" stroke-width="0.9"/><circle cx="619.92" cy="351.03" r="1.55" fill="#98a8ff" fill-opacity="0.6" stroke="#4a62f5" stroke-opacity="0.85" stroke-width="0.9"/><circle cx="621.90" cy="351.77" r="1.55" fill="#98a8ff" fill-opacity="0.6" stroke="#4a62f5" stroke-opacity="0.85" stroke-width="0.9"/><circle cx="623.88" cy="353.09" r="1.55" fill="#98a8ff" fill-opacity="0.6" stroke="#4a62f5" stroke-opacity="0.85" stroke-width="0.9"/><circle cx="625.86" cy="353.40" r="1.55" fill="#98a8ff" fill-opacity="0.6" stroke="#4a62f5" stroke-opacity="0.85" stroke-width="0.9"/><circle cx="627.84" cy="353.41" r="1.55" fill="#98a8ff" fill-opacity="0.6" stroke="#4a62f5" stroke-opacity="0.85" stroke-width="0.9"/><circle cx="629.82" cy="354.91" r="1.55" fill="#98a8ff" fill-opacity="0.6" stroke="#4a62f5" stroke-opacity="0.85" stroke-width="0.9"/><circle cx="631.80" cy="354.68" r="1.55" fill="#98a8ff" fill-opacity="0.6" stroke="#4a62f5" stroke-opacity="0.85" stroke-width="0.9"/><circle cx="633.78" cy="355.62" r="1.55" fill="#98a8ff" fill-opacity="0.6" stroke="#4a62f5" stroke-opacity="0.85" stroke-width="0.9"/><circle cx="635.76" cy="356.16" r="1.55" fill="#98a8ff" fill-opacity="0.6" stroke="#4a62f5" stroke-opacity="0.85" stroke-width="0.9"/><circle cx="637.74" cy="356.72" r="1.55" fill="#98a8ff" fill-opacity="0.6" stroke="#4a62f5" stroke-opacity="0.85" stroke-width="0.9"/><circle cx="639.72" cy="356.06" r="1.55" fill="#98a8ff" fill-opacity="0.6" stroke="#4a62f5" stroke-opacity="0.85" stroke-width="0.9"/><circle cx="641.71" cy="357.55" r="1.55" fill="#98a8ff" fill-opacity="0.6" stroke="#4a62f5" stroke-opacity="0.85" stroke-width="0.9"/><circle cx="643.69" cy="357.83" r="1.55" fill="#98a8ff" fill-opacity="0.6" stroke="#4a62f5" stroke-opacity="0.85" stroke-width="0.9"/><circle cx="645.67" cy="358.06" r="1.55" fill="#98a8ff" fill-opacity="0.6" stroke="#4a62f5" stroke-opacity="0.85" stroke-width="0.9"/><circle cx="647.65" cy="357.76" r="1.55" fill="#98a8ff" fill-opacity="0.6" stroke="#4a62f5" stroke-opacity="0.85" stroke-width="0.9"/>
<path d="M541.90 286.30H578.20" stroke="#f06cc8" stroke-width="1.1" stroke-dasharray="3.2 2.4"/>
<path d="M543.10 337.10H580.80" stroke="#6a86ee" stroke-width="1.1" stroke-dasharray="3.2 2.4"/>
<path d="M565.00 291.10V332.90" stroke="#e0202e" stroke-width="1.5"/>
<path d="M565.00 287.50l2.6 6h-5.2z" fill="#e0202e"/>
<path d="M565.00 336.50l2.6 -6h-5.2z" fill="#e0202e"/>
<text x="573.80" y="313.10" font-size="11.7" text-anchor="start" fill="#4d4d4d" font-weight="bold" ><tspan font-weight="normal" fill="#8a8a8a">∆</tspan><tspan font-style="italic">T</tspan><tspan font-size="8.6" dy="1">hot</tspan><tspan dy="-1" dx="2.4">= 39.1 K</tspan></text>
<circle cx="615.6" cy="224.90" r="2.9" fill="#f46e6e" fill-opacity="0.75"/>
<text x="630.00" y="229.20" font-size="12" text-anchor="start" fill="#231f20" font-weight="bold" >Ga<tspan font-size="7" dy="1">2</tspan><tspan dy="-1">O</tspan><tspan font-size="7" dy="1">3</tspan></text>
<circle cx="615.6" cy="239.40" r="2.9" fill="#6e84f0" fill-opacity="0.75"/>
<text x="630.00" y="243.70" font-size="12" text-anchor="start" fill="#231f20" font-weight="bold" >SiC</text>
<rect x="465.3" y="412.5" width="210.40" height="161.80" fill="none" stroke="#000" stroke-width="1.7"/>
<path d="M475.32 574.3v-3.5 M525.41 574.3v-3.5 M575.51 574.3v-3.5 M625.60 574.3v-3.5 M675.70 574.3v-3.5 M500.37 574.3v-2.0 M550.46 574.3v-2.0 M600.56 574.3v-2.0 M650.65 574.3v-2.0 M465.3 554.07h3.5 M465.3 520.37h3.5 M465.3 486.66h3.5 M465.3 452.95h3.5 M465.3 419.24h3.5 M465.3 570.93h2.0 M465.3 537.22h2.0 M465.3 503.51h2.0 M465.3 469.80h2.0 M465.3 436.10h2.0" stroke="#000" stroke-width="1.3" fill="none"/>
<text x="475.32" y="586.10" font-size="12" text-anchor="middle" fill="#000" font-weight="bold" >0</text>
<text x="525.41" y="586.10" font-size="12" text-anchor="middle" fill="#000" font-weight="bold" >50</text>
<text x="575.51" y="586.10" font-size="12" text-anchor="middle" fill="#000" font-weight="bold" >100</text>
<text x="625.60" y="586.10" font-size="12" text-anchor="middle" fill="#000" font-weight="bold" >150</text>
<text x="675.70" y="586.10" font-size="12" text-anchor="middle" fill="#000" font-weight="bold" >200</text>
<text x="458.10" y="558.39" font-size="12" text-anchor="end" fill="#000" font-weight="bold" >275</text>
<text x="458.10" y="524.69" font-size="12" text-anchor="end" fill="#000" font-weight="bold" >300</text>
<text x="458.10" y="490.98" font-size="12" text-anchor="end" fill="#000" font-weight="bold" >325</text>
<text x="458.10" y="457.27" font-size="12" text-anchor="end" fill="#000" font-weight="bold" >350</text>
<text x="458.10" y="423.56" font-size="12" text-anchor="end" fill="#000" font-weight="bold" >375</text>
<text x="417.50" y="424.30" font-size="14.5" text-anchor="start" fill="#000" font-weight="bold" >(i)</text>
<text transform="translate(432.00,493.90) rotate(-90)" x="0" y="0" font-size="14.2" text-anchor="middle" fill="#000" font-weight="bold">Temperature (K)</text>
<text x="578.50" y="600.10" font-size="14.6" text-anchor="middle" fill="#000" font-weight="bold" >Position (Å)</text>
<circle cx="475.32" cy="425.99" r="2.45" fill="#ff7a80" fill-opacity="0.85" stroke="#ff3a44" stroke-opacity="0.8" stroke-width="1.2"/><circle cx="478.87" cy="427.61" r="2.45" fill="#ff7a80" fill-opacity="0.85" stroke="#ff3a44" stroke-opacity="0.8" stroke-width="1.2"/><circle cx="482.42" cy="429.67" r="2.45" fill="#ff7a80" fill-opacity="0.85" stroke="#ff3a44" stroke-opacity="0.8" stroke-width="1.2"/><circle cx="485.96" cy="431.35" r="2.45" fill="#ff7a80" fill-opacity="0.85" stroke="#ff3a44" stroke-opacity="0.8" stroke-width="1.2"/><circle cx="489.51" cy="433.67" r="2.45" fill="#ff7a80" fill-opacity="0.85" stroke="#ff3a44" stroke-opacity="0.8" stroke-width="1.2"/><circle cx="493.06" cy="435.82" r="2.45" fill="#ff7a80" fill-opacity="0.85" stroke="#ff3a44" stroke-opacity="0.8" stroke-width="1.2"/><circle cx="496.61" cy="438.98" r="2.45" fill="#ff7a80" fill-opacity="0.85" stroke="#ff3a44" stroke-opacity="0.8" stroke-width="1.2"/><circle cx="500.16" cy="440.98" r="2.45" fill="#ff7a80" fill-opacity="0.85" stroke="#ff3a44" stroke-opacity="0.8" stroke-width="1.2"/><circle cx="503.71" cy="443.29" r="2.45" fill="#ff7a80" fill-opacity="0.85" stroke="#ff3a44" stroke-opacity="0.8" stroke-width="1.2"/><circle cx="507.25" cy="444.66" r="2.45" fill="#ff7a80" fill-opacity="0.85" stroke="#ff3a44" stroke-opacity="0.8" stroke-width="1.2"/><circle cx="510.80" cy="446.76" r="2.45" fill="#ff7a80" fill-opacity="0.85" stroke="#ff3a44" stroke-opacity="0.8" stroke-width="1.2"/><circle cx="514.35" cy="450.28" r="2.45" fill="#ff7a80" fill-opacity="0.85" stroke="#ff3a44" stroke-opacity="0.8" stroke-width="1.2"/><circle cx="517.90" cy="452.46" r="2.45" fill="#ff7a80" fill-opacity="0.85" stroke="#ff3a44" stroke-opacity="0.8" stroke-width="1.2"/><circle cx="521.45" cy="454.59" r="2.45" fill="#ff7a80" fill-opacity="0.85" stroke="#ff3a44" stroke-opacity="0.8" stroke-width="1.2"/><circle cx="525.00" cy="456.81" r="2.45" fill="#ff7a80" fill-opacity="0.85" stroke="#ff3a44" stroke-opacity="0.8" stroke-width="1.2"/><circle cx="528.55" cy="458.62" r="2.45" fill="#ff7a80" fill-opacity="0.85" stroke="#ff3a44" stroke-opacity="0.8" stroke-width="1.2"/><circle cx="532.09" cy="460.67" r="2.45" fill="#ff7a80" fill-opacity="0.85" stroke="#ff3a44" stroke-opacity="0.8" stroke-width="1.2"/><circle cx="535.64" cy="463.42" r="2.45" fill="#ff7a80" fill-opacity="0.85" stroke="#ff3a44" stroke-opacity="0.8" stroke-width="1.2"/><circle cx="539.19" cy="466.06" r="2.45" fill="#ff7a80" fill-opacity="0.85" stroke="#ff3a44" stroke-opacity="0.8" stroke-width="1.2"/><circle cx="542.74" cy="467.60" r="2.45" fill="#ff7a80" fill-opacity="0.85" stroke="#ff3a44" stroke-opacity="0.8" stroke-width="1.2"/><circle cx="546.29" cy="469.90" r="2.45" fill="#ff7a80" fill-opacity="0.85" stroke="#ff3a44" stroke-opacity="0.8" stroke-width="1.2"/><circle cx="549.84" cy="471.80" r="2.45" fill="#ff7a80" fill-opacity="0.85" stroke="#ff3a44" stroke-opacity="0.8" stroke-width="1.2"/><circle cx="553.38" cy="473.40" r="2.45" fill="#ff7a80" fill-opacity="0.85" stroke="#ff3a44" stroke-opacity="0.8" stroke-width="1.2"/><circle cx="556.93" cy="476.04" r="2.45" fill="#ff7a80" fill-opacity="0.85" stroke="#ff3a44" stroke-opacity="0.8" stroke-width="1.2"/><circle cx="560.48" cy="478.54" r="2.45" fill="#ff7a80" fill-opacity="0.85" stroke="#ff3a44" stroke-opacity="0.8" stroke-width="1.2"/>
<circle cx="570.50" cy="549.81" r="2.45" fill="#8c9eff" fill-opacity="0.85" stroke="#3a5ef7" stroke-opacity="0.8" stroke-width="1.2"/><circle cx="574.12" cy="550.42" r="2.45" fill="#8c9eff" fill-opacity="0.85" stroke="#3a5ef7" stroke-opacity="0.8" stroke-width="1.2"/><circle cx="577.74" cy="552.32" r="2.45" fill="#8c9eff" fill-opacity="0.85" stroke="#3a5ef7" stroke-opacity="0.8" stroke-width="1.2"/><circle cx="581.37" cy="551.45" r="2.45" fill="#8c9eff" fill-opacity="0.85" stroke="#3a5ef7" stroke-opacity="0.8" stroke-width="1.2"/><circle cx="584.99" cy="552.41" r="2.45" fill="#8c9eff" fill-opacity="0.85" stroke="#3a5ef7" stroke-opacity="0.8" stroke-width="1.2"/><circle cx="588.61" cy="552.95" r="2.45" fill="#8c9eff" fill-opacity="0.85" stroke="#3a5ef7" stroke-opacity="0.8" stroke-width="1.2"/><circle cx="592.23" cy="553.82" r="2.45" fill="#8c9eff" fill-opacity="0.85" stroke="#3a5ef7" stroke-opacity="0.8" stroke-width="1.2"/><circle cx="595.86" cy="555.32" r="2.45" fill="#8c9eff" fill-opacity="0.85" stroke="#3a5ef7" stroke-opacity="0.8" stroke-width="1.2"/><circle cx="599.48" cy="556.03" r="2.45" fill="#8c9eff" fill-opacity="0.85" stroke="#3a5ef7" stroke-opacity="0.8" stroke-width="1.2"/><circle cx="603.10" cy="557.31" r="2.45" fill="#8c9eff" fill-opacity="0.85" stroke="#3a5ef7" stroke-opacity="0.8" stroke-width="1.2"/><circle cx="606.72" cy="557.04" r="2.45" fill="#8c9eff" fill-opacity="0.85" stroke="#3a5ef7" stroke-opacity="0.8" stroke-width="1.2"/><circle cx="610.34" cy="558.84" r="2.45" fill="#8c9eff" fill-opacity="0.85" stroke="#3a5ef7" stroke-opacity="0.8" stroke-width="1.2"/><circle cx="613.97" cy="559.56" r="2.45" fill="#8c9eff" fill-opacity="0.85" stroke="#3a5ef7" stroke-opacity="0.8" stroke-width="1.2"/><circle cx="617.59" cy="560.02" r="2.45" fill="#8c9eff" fill-opacity="0.85" stroke="#3a5ef7" stroke-opacity="0.8" stroke-width="1.2"/><circle cx="621.21" cy="560.83" r="2.45" fill="#8c9eff" fill-opacity="0.85" stroke="#3a5ef7" stroke-opacity="0.8" stroke-width="1.2"/><circle cx="624.83" cy="561.22" r="2.45" fill="#8c9eff" fill-opacity="0.85" stroke="#3a5ef7" stroke-opacity="0.8" stroke-width="1.2"/><circle cx="628.46" cy="562.49" r="2.45" fill="#8c9eff" fill-opacity="0.85" stroke="#3a5ef7" stroke-opacity="0.8" stroke-width="1.2"/><circle cx="632.08" cy="563.32" r="2.45" fill="#8c9eff" fill-opacity="0.85" stroke="#3a5ef7" stroke-opacity="0.8" stroke-width="1.2"/><circle cx="635.70" cy="563.76" r="2.45" fill="#8c9eff" fill-opacity="0.85" stroke="#3a5ef7" stroke-opacity="0.8" stroke-width="1.2"/><circle cx="639.32" cy="564.58" r="2.45" fill="#8c9eff" fill-opacity="0.85" stroke="#3a5ef7" stroke-opacity="0.8" stroke-width="1.2"/><circle cx="642.95" cy="564.81" r="2.45" fill="#8c9eff" fill-opacity="0.85" stroke="#3a5ef7" stroke-opacity="0.8" stroke-width="1.2"/><circle cx="646.57" cy="566.17" r="2.45" fill="#8c9eff" fill-opacity="0.85" stroke="#3a5ef7" stroke-opacity="0.8" stroke-width="1.2"/><circle cx="650.19" cy="565.30" r="2.45" fill="#8c9eff" fill-opacity="0.85" stroke="#3a5ef7" stroke-opacity="0.8" stroke-width="1.2"/><circle cx="653.81" cy="566.51" r="2.45" fill="#8c9eff" fill-opacity="0.85" stroke="#3a5ef7" stroke-opacity="0.8" stroke-width="1.2"/><circle cx="657.43" cy="568.12" r="2.45" fill="#8c9eff" fill-opacity="0.85" stroke="#3a5ef7" stroke-opacity="0.8" stroke-width="1.2"/><circle cx="661.06" cy="568.65" r="2.45" fill="#8c9eff" fill-opacity="0.85" stroke="#3a5ef7" stroke-opacity="0.8" stroke-width="1.2"/><circle cx="664.68" cy="569.19" r="2.45" fill="#8c9eff" fill-opacity="0.85" stroke="#3a5ef7" stroke-opacity="0.8" stroke-width="1.2"/>
<path d="M552.30 479.30H600.20" stroke="#f06cc8" stroke-width="1.1" stroke-dasharray="3.2 2.4"/>
<path d="M552.30 513.90H576.80" stroke="#39c96a" stroke-width="1.1" stroke-dasharray="3.2 2.4"/>
<path d="M552.30 522.60H576.80" stroke="#39c96a" stroke-width="1.1" stroke-dasharray="3.2 2.4"/>
<path d="M552.30 548.30H599.00" stroke="#6a86ee" stroke-width="1.1" stroke-dasharray="3.2 2.4"/>
<path d="M561.60 510.40l3.1 3.1l-3.1 3.1l-3.1 -3.1z" fill="#44d040" fill-opacity="0.75"/>
<path d="M563.00 512.20l3.1 3.1l-3.1 3.1l-3.1 -3.1z" fill="#44d040" fill-opacity="0.75"/>
<path d="M564.40 514.00l3.1 3.1l-3.1 3.1l-3.1 -3.1z" fill="#44d040" fill-opacity="0.75"/>
<path d="M565.80 515.80l3.1 3.1l-3.1 3.1l-3.1 -3.1z" fill="#44d040" fill-opacity="0.75"/>
<path d="M567.20 517.60l3.1 3.1l-3.1 3.1l-3.1 -3.1z" fill="#44d040" fill-opacity="0.75"/>
<path d="M568.60 519.40l3.1 3.1l-3.1 3.1l-3.1 -3.1z" fill="#44d040" fill-opacity="0.75"/>
<path d="M568.60 483.60V509.40" stroke="#e0202e" stroke-width="1.5"/>
<path d="M568.60 480.00l2.6 6h-5.2z" fill="#e0202e"/>
<path d="M568.60 513.00l2.6 -6h-5.2z" fill="#e0202e"/>
<path d="M560.50 527.10V543.90" stroke="#1c97de" stroke-width="1.5"/>
<path d="M560.50 523.50l2.6 6h-5.2z" fill="#1c97de"/>
<path d="M560.50 547.50l2.6 -6h-5.2z" fill="#1c97de"/>
<text x="574.50" y="499.20" font-size="11.7" text-anchor="start" fill="#4d4d4d" font-weight="bold" ><tspan font-weight="normal" fill="#8a8a8a">∆</tspan><tspan font-style="italic">T</tspan><tspan font-size="8.6" dy="1">hot</tspan><tspan dy="-1" dx="2.4">= 25.9 K</tspan></text>
<text x="471.70" y="541.80" font-size="11.7" text-anchor="start" fill="#8c8c8c" font-weight="bold" ><tspan font-weight="normal" fill="#9a9a9a">∆</tspan><tspan font-style="italic">T</tspan><tspan font-size="8.6" dy="1">cold</tspan><tspan dy="-1"> = 19.3 K</tspan></text>
<circle cx="615.6" cy="427.30" r="2.9" fill="#f46e6e" fill-opacity="0.75"/>
<text x="630.00" y="431.60" font-size="12" text-anchor="start" fill="#231f20" font-weight="bold" >Ga<tspan font-size="7" dy="1">2</tspan><tspan dy="-1">O</tspan><tspan font-size="7" dy="1">3</tspan></text>
<path d="M615.6 437.30l3.3 3.3l-3.3 3.3l-3.3 -3.3z" fill="#5ad352" fill-opacity="0.8"/>
<text x="630.00" y="444.90" font-size="12" text-anchor="start" fill="#231f20" font-weight="bold" >SiO<tspan font-size="7" dy="1">2</tspan></text>
<circle cx="615.6" cy="454.20" r="2.9" fill="#6e84f0" fill-opacity="0.75"/>
<text x="630.00" y="458.50" font-size="12" text-anchor="start" fill="#231f20" font-weight="bold" >SiC</text>
<rect x="465.3" y="615.3" width="210.40" height="161.90" fill="none" stroke="#000" stroke-width="1.7"/>
<path d="M475.32 777.2v-3.5 M525.41 777.2v-3.5 M575.51 777.2v-3.5 M625.60 777.2v-3.5 M675.70 777.2v-3.5 M500.37 777.2v-2.0 M550.46 777.2v-2.0 M600.56 777.2v-2.0 M650.65 777.2v-2.0 M465.3 756.96h3.5 M465.3 723.23h3.5 M465.3 689.50h3.5 M465.3 655.77h3.5 M465.3 622.05h3.5 M465.3 773.83h2.0 M465.3 740.10h2.0 M465.3 706.37h2.0 M465.3 672.64h2.0 M465.3 638.91h2.0" stroke="#000" stroke-width="1.3" fill="none"/>
<text x="475.32" y="789.30" font-size="12" text-anchor="middle" fill="#000" font-weight="bold" >0</text>
<text x="525.41" y="789.30" font-size="12" text-anchor="middle" fill="#000" font-weight="bold" >50</text>
<text x="575.51" y="789.30" font-size="12" text-anchor="middle" fill="#000" font-weight="bold" >100</text>
<text x="625.60" y="789.30" font-size="12" text-anchor="middle" fill="#000" font-weight="bold" >150</text>
<text x="675.70" y="789.30" font-size="12" text-anchor="middle" fill="#000" font-weight="bold" >200</text>
<text x="458.10" y="761.28" font-size="12" text-anchor="end" fill="#000" font-weight="bold" >275</text>
<text x="458.10" y="727.55" font-size="12" text-anchor="end" fill="#000" font-weight="bold" >300</text>
<text x="458.10" y="693.82" font-size="12" text-anchor="end" fill="#000" font-weight="bold" >325</text>
<text x="458.10" y="660.10" font-size="12" text-anchor="end" fill="#000" font-weight="bold" >350</text>
<text x="458.10" y="626.37" font-size="12" text-anchor="end" fill="#000" font-weight="bold" >375</text>
<text x="417.50" y="627.30" font-size="14.5" text-anchor="start" fill="#000" font-weight="bold" >(l)</text>
<text transform="translate(432.00,696.75) rotate(-90)" x="0" y="0" font-size="14.2" text-anchor="middle" fill="#000" font-weight="bold">Temperature (K)</text>
<text x="578.50" y="804.20" font-size="14.6" text-anchor="middle" fill="#000" font-weight="bold" >Position (Å)</text>
<circle cx="475.32" cy="628.63" r="2.45" fill="#ff7a80" fill-opacity="0.85" stroke="#ff3a44" stroke-opacity="0.8" stroke-width="1.2"/><circle cx="478.22" cy="631.38" r="2.45" fill="#ff7a80" fill-opacity="0.85" stroke="#ff3a44" stroke-opacity="0.8" stroke-width="1.2"/><circle cx="481.12" cy="633.35" r="2.45" fill="#ff7a80" fill-opacity="0.85" stroke="#ff3a44" stroke-opacity="0.8" stroke-width="1.2"/><circle cx="484.03" cy="635.79" r="2.45" fill="#ff7a80" fill-opacity="0.85" stroke="#ff3a44" stroke-opacity="0.8" stroke-width="1.2"/><circle cx="486.93" cy="638.77" r="2.45" fill="#ff7a80" fill-opacity="0.85" stroke="#ff3a44" stroke-opacity="0.8" stroke-width="1.2"/><circle cx="489.83" cy="641.31" r="2.45" fill="#ff7a80" fill-opacity="0.85" stroke="#ff3a44" stroke-opacity="0.8" stroke-width="1.2"/><circle cx="492.73" cy="644.18" r="2.45" fill="#ff7a80" fill-opacity="0.85" stroke="#ff3a44" stroke-opacity="0.8" stroke-width="1.2"/><circle cx="495.63" cy="646.72" r="2.45" fill="#ff7a80" fill-opacity="0.85" stroke="#ff3a44" stroke-opacity="0.8" stroke-width="1.2"/><circle cx="498.54" cy="649.08" r="2.45" fill="#ff7a80" fill-opacity="0.85" stroke="#ff3a44" stroke-opacity="0.8" stroke-width="1.2"/><circle cx="501.44" cy="651.70" r="2.45" fill="#ff7a80" fill-opacity="0.85" stroke="#ff3a44" stroke-opacity="0.8" stroke-width="1.2"/><circle cx="504.34" cy="653.80" r="2.45" fill="#ff7a80" fill-opacity="0.85" stroke="#ff3a44" stroke-opacity="0.8" stroke-width="1.2"/><circle cx="507.24" cy="656.89" r="2.45" fill="#ff7a80" fill-opacity="0.85" stroke="#ff3a44" stroke-opacity="0.8" stroke-width="1.2"/><circle cx="510.14" cy="659.56" r="2.45" fill="#ff7a80" fill-opacity="0.85" stroke="#ff3a44" stroke-opacity="0.8" stroke-width="1.2"/><circle cx="513.05" cy="661.36" r="2.45" fill="#ff7a80" fill-opacity="0.85" stroke="#ff3a44" stroke-opacity="0.8" stroke-width="1.2"/><circle cx="515.95" cy="664.26" r="2.45" fill="#ff7a80" fill-opacity="0.85" stroke="#ff3a44" stroke-opacity="0.8" stroke-width="1.2"/><circle cx="518.85" cy="667.12" r="2.45" fill="#ff7a80" fill-opacity="0.85" stroke="#ff3a44" stroke-opacity="0.8" stroke-width="1.2"/><circle cx="521.75" cy="669.35" r="2.45" fill="#ff7a80" fill-opacity="0.85" stroke="#ff3a44" stroke-opacity="0.8" stroke-width="1.2"/><circle cx="524.65" cy="672.32" r="2.45" fill="#ff7a80" fill-opacity="0.85" stroke="#ff3a44" stroke-opacity="0.8" stroke-width="1.2"/><circle cx="527.56" cy="674.47" r="2.45" fill="#ff7a80" fill-opacity="0.85" stroke="#ff3a44" stroke-opacity="0.8" stroke-width="1.2"/><circle cx="530.46" cy="676.66" r="2.45" fill="#ff7a80" fill-opacity="0.85" stroke="#ff3a44" stroke-opacity="0.8" stroke-width="1.2"/><circle cx="533.36" cy="679.31" r="2.45" fill="#ff7a80" fill-opacity="0.85" stroke="#ff3a44" stroke-opacity="0.8" stroke-width="1.2"/><circle cx="536.26" cy="682.00" r="2.45" fill="#ff7a80" fill-opacity="0.85" stroke="#ff3a44" stroke-opacity="0.8" stroke-width="1.2"/><circle cx="539.16" cy="684.91" r="2.45" fill="#ff7a80" fill-opacity="0.85" stroke="#ff3a44" stroke-opacity="0.8" stroke-width="1.2"/><circle cx="542.07" cy="687.37" r="2.45" fill="#ff7a80" fill-opacity="0.85" stroke="#ff3a44" stroke-opacity="0.8" stroke-width="1.2"/><circle cx="544.97" cy="690.09" r="2.45" fill="#ff7a80" fill-opacity="0.85" stroke="#ff3a44" stroke-opacity="0.8" stroke-width="1.2"/><circle cx="547.87" cy="692.15" r="2.45" fill="#ff7a80" fill-opacity="0.85" stroke="#ff3a44" stroke-opacity="0.8" stroke-width="1.2"/><circle cx="550.77" cy="694.90" r="2.45" fill="#ff7a80" fill-opacity="0.85" stroke="#ff3a44" stroke-opacity="0.8" stroke-width="1.2"/><circle cx="553.67" cy="697.26" r="2.45" fill="#ff7a80" fill-opacity="0.85" stroke="#ff3a44" stroke-opacity="0.8" stroke-width="1.2"/><circle cx="556.58" cy="700.17" r="2.45" fill="#ff7a80" fill-opacity="0.85" stroke="#ff3a44" stroke-opacity="0.8" stroke-width="1.2"/><circle cx="559.48" cy="702.82" r="2.45" fill="#ff7a80" fill-opacity="0.85" stroke="#ff3a44" stroke-opacity="0.8" stroke-width="1.2"/>
<circle cx="569.50" cy="730.91" r="2.45" fill="#8c9eff" fill-opacity="0.85" stroke="#3a5ef7" stroke-opacity="0.8" stroke-width="1.2"/><circle cx="572.50" cy="731.54" r="2.45" fill="#8c9eff" fill-opacity="0.85" stroke="#3a5ef7" stroke-opacity="0.8" stroke-width="1.2"/><circle cx="575.51" cy="732.59" r="2.45" fill="#8c9eff" fill-opacity="0.85" stroke="#3a5ef7" stroke-opacity="0.8" stroke-width="1.2"/><circle cx="578.52" cy="733.53" r="2.45" fill="#8c9eff" fill-opacity="0.85" stroke="#3a5ef7" stroke-opacity="0.8" stroke-width="1.2"/><circle cx="581.52" cy="734.38" r="2.45" fill="#8c9eff" fill-opacity="0.85" stroke="#3a5ef7" stroke-opacity="0.8" stroke-width="1.2"/><circle cx="584.53" cy="735.36" r="2.45" fill="#8c9eff" fill-opacity="0.85" stroke="#3a5ef7" stroke-opacity="0.8" stroke-width="1.2"/><circle cx="587.53" cy="736.92" r="2.45" fill="#8c9eff" fill-opacity="0.85" stroke="#3a5ef7" stroke-opacity="0.8" stroke-width="1.2"/><circle cx="590.54" cy="737.40" r="2.45" fill="#8c9eff" fill-opacity="0.85" stroke="#3a5ef7" stroke-opacity="0.8" stroke-width="1.2"/><circle cx="593.54" cy="738.49" r="2.45" fill="#8c9eff" fill-opacity="0.85" stroke="#3a5ef7" stroke-opacity="0.8" stroke-width="1.2"/><circle cx="596.55" cy="739.80" r="2.45" fill="#8c9eff" fill-opacity="0.85" stroke="#3a5ef7" stroke-opacity="0.8" stroke-width="1.2"/><circle cx="599.56" cy="740.67" r="2.45" fill="#8c9eff" fill-opacity="0.85" stroke="#3a5ef7" stroke-opacity="0.8" stroke-width="1.2"/><circle cx="602.56" cy="741.20" r="2.45" fill="#8c9eff" fill-opacity="0.85" stroke="#3a5ef7" stroke-opacity="0.8" stroke-width="1.2"/><circle cx="605.57" cy="742.10" r="2.45" fill="#8c9eff" fill-opacity="0.85" stroke="#3a5ef7" stroke-opacity="0.8" stroke-width="1.2"/><circle cx="608.57" cy="742.38" r="2.45" fill="#8c9eff" fill-opacity="0.85" stroke="#3a5ef7" stroke-opacity="0.8" stroke-width="1.2"/><circle cx="611.58" cy="742.90" r="2.45" fill="#8c9eff" fill-opacity="0.85" stroke="#3a5ef7" stroke-opacity="0.8" stroke-width="1.2"/><circle cx="614.58" cy="744.46" r="2.45" fill="#8c9eff" fill-opacity="0.85" stroke="#3a5ef7" stroke-opacity="0.8" stroke-width="1.2"/><circle cx="617.59" cy="744.67" r="2.45" fill="#8c9eff" fill-opacity="0.85" stroke="#3a5ef7" stroke-opacity="0.8" stroke-width="1.2"/><circle cx="620.60" cy="745.47" r="2.45" fill="#8c9eff" fill-opacity="0.85" stroke="#3a5ef7" stroke-opacity="0.8" stroke-width="1.2"/><circle cx="623.60" cy="746.38" r="2.45" fill="#8c9eff" fill-opacity="0.85" stroke="#3a5ef7" stroke-opacity="0.8" stroke-width="1.2"/><circle cx="626.61" cy="748.05" r="2.45" fill="#8c9eff" fill-opacity="0.85" stroke="#3a5ef7" stroke-opacity="0.8" stroke-width="1.2"/><circle cx="629.61" cy="749.11" r="2.45" fill="#8c9eff" fill-opacity="0.85" stroke="#3a5ef7" stroke-opacity="0.8" stroke-width="1.2"/><circle cx="632.62" cy="749.98" r="2.45" fill="#8c9eff" fill-opacity="0.85" stroke="#3a5ef7" stroke-opacity="0.8" stroke-width="1.2"/><circle cx="635.62" cy="750.89" r="2.45" fill="#8c9eff" fill-opacity="0.85" stroke="#3a5ef7" stroke-opacity="0.8" stroke-width="1.2"/><circle cx="638.63" cy="751.75" r="2.45" fill="#8c9eff" fill-opacity="0.85" stroke="#3a5ef7" stroke-opacity="0.8" stroke-width="1.2"/><circle cx="641.64" cy="752.05" r="2.45" fill="#8c9eff" fill-opacity="0.85" stroke="#3a5ef7" stroke-opacity="0.8" stroke-width="1.2"/><circle cx="644.64" cy="752.55" r="2.45" fill="#8c9eff" fill-opacity="0.85" stroke="#3a5ef7" stroke-opacity="0.8" stroke-width="1.2"/><circle cx="647.65" cy="753.50" r="2.45" fill="#8c9eff" fill-opacity="0.85" stroke="#3a5ef7" stroke-opacity="0.8" stroke-width="1.2"/><circle cx="650.65" cy="754.86" r="2.45" fill="#8c9eff" fill-opacity="0.85" stroke="#3a5ef7" stroke-opacity="0.8" stroke-width="1.2"/><circle cx="653.66" cy="755.49" r="2.45" fill="#8c9eff" fill-opacity="0.85" stroke="#3a5ef7" stroke-opacity="0.8" stroke-width="1.2"/><circle cx="656.66" cy="756.17" r="2.45" fill="#8c9eff" fill-opacity="0.85" stroke="#3a5ef7" stroke-opacity="0.8" stroke-width="1.2"/><circle cx="659.67" cy="758.00" r="2.45" fill="#8c9eff" fill-opacity="0.85" stroke="#3a5ef7" stroke-opacity="0.8" stroke-width="1.2"/><circle cx="662.68" cy="758.10" r="2.45" fill="#8c9eff" fill-opacity="0.85" stroke="#3a5ef7" stroke-opacity="0.8" stroke-width="1.2"/>
<path d="M553.40 703.90H590.00" stroke="#f06cc8" stroke-width="1.1" stroke-dasharray="3.2 2.4"/>
<path d="M537.40 714.50H594.30" stroke="#39c96a" stroke-width="1.1" stroke-dasharray="3.2 2.4"/>
<path d="M537.40 720.00H594.30" stroke="#39c96a" stroke-width="1.1" stroke-dasharray="3.2 2.4"/>
<path d="M537.40 732.60H568.00" stroke="#6a86ee" stroke-width="1.1" stroke-dasharray="3.2 2.4"/>
<path d="M562.20 710.50l3.1 3.1l-3.1 3.1l-3.1 -3.1z" fill="#44d040" fill-opacity="0.75"/>
<path d="M563.30 711.95l3.1 3.1l-3.1 3.1l-3.1 -3.1z" fill="#44d040" fill-opacity="0.75"/>
<path d="M564.40 713.40l3.1 3.1l-3.1 3.1l-3.1 -3.1z" fill="#44d040" fill-opacity="0.75"/>
<path d="M565.50 714.85l3.1 3.1l-3.1 3.1l-3.1 -3.1z" fill="#44d040" fill-opacity="0.75"/>
<path d="M566.60 716.30l3.1 3.1l-3.1 3.1l-3.1 -3.1z" fill="#44d040" fill-opacity="0.75"/>
<path d="M585 693V724.4" stroke="#e0202e" stroke-width="1.5"/>
<path d="M585 703.9l-2.6 -6h5.2z M585 714.5l-2.6 6h5.2z" fill="#e0202e"/>
<path d="M546.7 709.2V741.9" stroke="#1c97de" stroke-width="1.5"/>
<path d="M546.7 720l-2.6 -6h5.2z M546.7 732.6l-2.6 6h5.2z" fill="#1c97de"/>
<text x="591.40" y="712.40" font-size="11.7" text-anchor="start" fill="#4d4d4d" font-weight="bold" ><tspan font-weight="normal" fill="#8a8a8a">∆</tspan><tspan font-style="italic">T</tspan><tspan font-size="8.6" dy="1">hot</tspan><tspan dy="-1" dx="2.4">= 7.7K</tspan></text>
<text x="467.30" y="731.40" font-size="11.7" text-anchor="start" fill="#8c8c8c" font-weight="bold" ><tspan font-weight="normal" fill="#9a9a9a">∆</tspan><tspan font-style="italic">T</tspan><tspan font-size="8.6" dy="1">cold</tspan><tspan dy="-1"> = 9.2 K</tspan></text>
<circle cx="617.6" cy="630.10" r="2.9" fill="#f46e6e" fill-opacity="0.75"/>
<text x="632.00" y="634.40" font-size="12" text-anchor="start" fill="#231f20" font-weight="bold" >Ga<tspan font-size="7" dy="1">2</tspan><tspan dy="-1">O</tspan><tspan font-size="7" dy="1">3</tspan></text>
<path d="M617.6 640.10l3.3 3.3l-3.3 3.3l-3.3 -3.3z" fill="#5ad352" fill-opacity="0.8"/>
<text x="632.00" y="647.70" font-size="12" text-anchor="start" fill="#231f20" font-weight="bold" >SiO<tspan font-size="7" dy="1">2</tspan></text>
<circle cx="617.6" cy="659.40" r="2.9" fill="#6e84f0" fill-opacity="0.75"/>
<text x="632.00" y="663.70" font-size="12" text-anchor="start" fill="#231f20" font-weight="bold" >SiC</text>
<text x="1.20" y="221.00" font-size="14.5" text-anchor="start" fill="#000" font-weight="bold" >(d)</text>
<rect x="28.8" y="207" width="87.70" height="93.50" fill="url(#ga_d)"/>
<rect x="27.6" y="303.9" width="88.90" height="92.10" fill="url(#sic_d)"/>
<text transform="translate(24.80,307.30) rotate(-90)" x="0" y="0" font-size="13.8" text-anchor="middle" fill="#000" font-weight="bold">Van der Waals force</text>
<text transform="translate(130.00,256.00) rotate(-90)" x="0" y="0" font-size="12" text-anchor="middle" fill="#231f20" font-weight="bold">Ga<tspan font-size="7" dy="1">2</tspan><tspan dy="-1">O</tspan><tspan font-size="7" dy="1">3</tspan></text>
<text transform="translate(130.00,349.00) rotate(-90)" x="0" y="0" font-size="12" text-anchor="middle" fill="#231f20" font-weight="bold">SiC</text>
<text x="0.50" y="425.00" font-size="14.5" text-anchor="start" fill="#000" font-weight="bold" >(g)</text>
<rect x="29.9" y="409.5" width="87.10" height="83.50" fill="url(#ga_g)"/>
<path d="M33.50 504.00 L39.00 499.00 L44.50 504.00 L50.00 499.00 L55.50 504.00 L61.00 499.00 L66.50 504.00 L72.00 499.00 L77.50 504.00 L83.00 499.00 L88.50 504.00 L94.00 499.00 L99.50 504.00 L105.00 499.00 L110.50 504.00 L116.00 499.00" stroke="#f49a9a" stroke-width="0.9" fill="none"/><ellipse cx="36.25" cy="501.50" rx="1.7" ry="1.2" transform="rotate(-42.3 36.25 501.50)" fill="#f26c6c"/><ellipse cx="41.75" cy="501.50" rx="1.7" ry="1.2" transform="rotate(42.3 41.75 501.50)" fill="#f26c6c"/><ellipse cx="47.25" cy="501.50" rx="1.7" ry="1.2" transform="rotate(-42.3 47.25 501.50)" fill="#f26c6c"/><ellipse cx="52.75" cy="501.50" rx="1.7" ry="1.2" transform="rotate(42.3 52.75 501.50)" fill="#f26c6c"/><ellipse cx="58.25" cy="501.50" rx="1.7" ry="1.2" transform="rotate(-42.3 58.25 501.50)" fill="#f26c6c"/><ellipse cx="63.75" cy="501.50" rx="1.7" ry="1.2" transform="rotate(42.3 63.75 501.50)" fill="#f26c6c"/><ellipse cx="69.25" cy="501.50" rx="1.7" ry="1.2" transform="rotate(-42.3 69.25 501.50)" fill="#f26c6c"/><ellipse cx="74.75" cy="501.50" rx="1.7" ry="1.2" transform="rotate(42.3 74.75 501.50)" fill="#f26c6c"/><ellipse cx="80.25" cy="501.50" rx="1.7" ry="1.2" transform="rotate(-42.3 80.25 501.50)" fill="#f26c6c"/><ellipse cx="85.75" cy="501.50" rx="1.7" ry="1.2" transform="rotate(42.3 85.75 501.50)" fill="#f26c6c"/><ellipse cx="91.25" cy="501.50" rx="1.7" ry="1.2" transform="rotate(-42.3 91.25 501.50)" fill="#f26c6c"/><ellipse cx="96.75" cy="501.50" rx="1.7" ry="1.2" transform="rotate(42.3 96.75 501.50)" fill="#f26c6c"/><ellipse cx="102.25" cy="501.50" rx="1.7" ry="1.2" transform="rotate(-42.3 102.25 501.50)" fill="#f26c6c"/><ellipse cx="107.75" cy="501.50" rx="1.7" ry="1.2" transform="rotate(42.3 107.75 501.50)" fill="#f26c6c"/><ellipse cx="113.25" cy="501.50" rx="1.7" ry="1.2" transform="rotate(-42.3 113.25 501.50)" fill="#f26c6c"/><circle cx="32.00" cy="506.30" r="1.2" fill="#f26c6c"/><circle cx="35.00" cy="506.30" r="1.2" fill="#f26c6c"/><circle cx="33.50" cy="504.00" r="1.15" fill="#edb040"/><circle cx="33.50" cy="508.40" r="1.1" fill="#edb040"/><circle cx="36.60" cy="496.70" r="1.2" fill="#f26c6c"/><circle cx="41.40" cy="496.70" r="1.2" fill="#f26c6c"/><circle cx="39.00" cy="499.00" r="1.15" fill="#edb040"/><circle cx="43.00" cy="506.30" r="1.2" fill="#f26c6c"/><circle cx="46.00" cy="506.30" r="1.2" fill="#f26c6c"/><circle cx="44.50" cy="504.00" r="1.15" fill="#edb040"/><circle cx="44.50" cy="508.40" r="1.1" fill="#edb040"/><circle cx="47.60" cy="496.70" r="1.2" fill="#f26c6c"/><circle cx="52.40" cy="496.70" r="1.2" fill="#f26c6c"/><circle cx="50.00" cy="499.00" r="1.15" fill="#edb040"/><circle cx="54.00" cy="506.30" r="1.2" fill="#f26c6c"/><circle cx="57.00" cy="506.30" r="1.2" fill="#f26c6c"/><circle cx="55.50" cy="504.00" r="1.15" fill="#edb040"/><circle cx="55.50" cy="508.40" r="1.1" fill="#edb040"/><circle cx="58.60" cy="496.70" r="1.2" fill="#f26c6c"/><circle cx="63.40" cy="496.70" r="1.2" fill="#f26c6c"/><circle cx="61.00" cy="499.00" r="1.15" fill="#edb040"/><circle cx="65.00" cy="506.30" r="1.2" fill="#f26c6c"/><circle cx="68.00" cy="506.30" r="1.2" fill="#f26c6c"/><circle cx="66.50" cy="504.00" r="1.15" fill="#edb040"/><circle cx="66.50" cy="508.40" r="1.1" fill="#edb040"/><circle cx="69.60" cy="496.70" r="1.2" fill="#f26c6c"/><circle cx="74.40" cy="496.70" r="1.2" fill="#f26c6c"/><circle cx="72.00" cy="499.00" r="1.15" fill="#edb040"/><circle cx="76.00" cy="506.30" r="1.2" fill="#f26c6c"/><circle cx="79.00" cy="506.30" r="1.2" fill="#f26c6c"/><circle cx="77.50" cy="504.00" r="1.15" fill="#edb040"/><circle cx="77.50" cy="508.40" r="1.1" fill="#edb040"/><circle cx="80.60" cy="496.70" r="1.2" fill="#f26c6c"/><circle cx="85.40" cy="496.70" r="1.2" fill="#f26c6c"/><circle cx="83.00" cy="499.00" r="1.15" fill="#edb040"/><circle cx="87.00" cy="506.30" r="1.2" fill="#f26c6c"/><circle cx="90.00" cy="506.30" r="1.2" fill="#f26c6c"/><circle cx="88.50" cy="504.00" r="1.15" fill="#edb040"/><circle cx="88.50" cy="508.40" r="1.1" fill="#edb040"/><circle cx="91.60" cy="496.70" r="1.2" fill="#f26c6c"/><circle cx="96.40" cy="496.70" r="1.2" fill="#f26c6c"/><circle cx="94.00" cy="499.00" r="1.15" fill="#edb040"/><circle cx="98.00" cy="506.30" r="1.2" fill="#f26c6c"/><circle cx="101.00" cy="506.30" r="1.2" fill="#f26c6c"/><circle cx="99.50" cy="504.00" r="1.15" fill="#edb040"/><circle cx="99.50" cy="508.40" r="1.1" fill="#edb040"/><circle cx="102.60" cy="496.70" r="1.2" fill="#f26c6c"/><circle cx="107.40" cy="496.70" r="1.2" fill="#f26c6c"/><circle cx="105.00" cy="499.00" r="1.15" fill="#edb040"/><circle cx="109.00" cy="506.30" r="1.2" fill="#f26c6c"/><circle cx="112.00" cy="506.30" r="1.2" fill="#f26c6c"/><circle cx="110.50" cy="504.00" r="1.15" fill="#edb040"/><circle cx="110.50" cy="508.40" r="1.1" fill="#edb040"/><circle cx="113.60" cy="496.70" r="1.2" fill="#f26c6c"/><circle cx="118.40" cy="496.70" r="1.2" fill="#f26c6c"/><circle cx="116.00" cy="499.00" r="1.15" fill="#edb040"/>
<rect x="27.6" y="511.3" width="89.40" height="86.70" fill="url(#sic_g)"/>
<text transform="translate(24.70,509.00) rotate(-90)" x="0" y="0" font-size="13.8" text-anchor="middle" fill="#000" font-weight="bold">Van der Waals force</text>
<text transform="translate(131.00,456.30) rotate(-90)" x="0" y="0" font-size="12" text-anchor="middle" fill="#231f20" font-weight="bold">Ga<tspan font-size="7" dy="1">2</tspan><tspan dy="-1">O</tspan><tspan font-size="7" dy="1">3</tspan></text>
<text transform="translate(131.00,504.40) rotate(-90)" x="0" y="0" font-size="12" text-anchor="middle" fill="#231f20" font-weight="bold">SiO<tspan font-size="7" dy="1">2</tspan></text>
<text transform="translate(131.00,559.00) rotate(-90)" x="0" y="0" font-size="12" text-anchor="middle" fill="#231f20" font-weight="bold">SiC</text>
<text x="0.50" y="628.00" font-size="14.5" text-anchor="start" fill="#000" font-weight="bold" >(j)</text>
<rect x="30.4" y="615" width="85.60" height="84.00" fill="url(#ga_j)"/>
<path d="M33.50 709.10 L39.00 704.60 L44.50 709.10 L50.00 704.60 L55.50 709.10 L61.00 704.60 L66.50 709.10 L72.00 704.60 L77.50 709.10 L83.00 704.60 L88.50 709.10 L94.00 704.60 L99.50 709.10 L105.00 704.60 L110.50 709.10 L116.00 704.60" stroke="#f49a9a" stroke-width="0.9" fill="none"/><ellipse cx="36.25" cy="706.85" rx="1.7" ry="1.2" transform="rotate(-39.3 36.25 706.85)" fill="#f26c6c"/><ellipse cx="41.75" cy="706.85" rx="1.7" ry="1.2" transform="rotate(39.3 41.75 706.85)" fill="#f26c6c"/><ellipse cx="47.25" cy="706.85" rx="1.7" ry="1.2" transform="rotate(-39.3 47.25 706.85)" fill="#f26c6c"/><ellipse cx="52.75" cy="706.85" rx="1.7" ry="1.2" transform="rotate(39.3 52.75 706.85)" fill="#f26c6c"/><ellipse cx="58.25" cy="706.85" rx="1.7" ry="1.2" transform="rotate(-39.3 58.25 706.85)" fill="#f26c6c"/><ellipse cx="63.75" cy="706.85" rx="1.7" ry="1.2" transform="rotate(39.3 63.75 706.85)" fill="#f26c6c"/><ellipse cx="69.25" cy="706.85" rx="1.7" ry="1.2" transform="rotate(-39.3 69.25 706.85)" fill="#f26c6c"/><ellipse cx="74.75" cy="706.85" rx="1.7" ry="1.2" transform="rotate(39.3 74.75 706.85)" fill="#f26c6c"/><ellipse cx="80.25" cy="706.85" rx="1.7" ry="1.2" transform="rotate(-39.3 80.25 706.85)" fill="#f26c6c"/><ellipse cx="85.75" cy="706.85" rx="1.7" ry="1.2" transform="rotate(39.3 85.75 706.85)" fill="#f26c6c"/><ellipse cx="91.25" cy="706.85" rx="1.7" ry="1.2" transform="rotate(-39.3 91.25 706.85)" fill="#f26c6c"/><ellipse cx="96.75" cy="706.85" rx="1.7" ry="1.2" transform="rotate(39.3 96.75 706.85)" fill="#f26c6c"/><ellipse cx="102.25" cy="706.85" rx="1.7" ry="1.2" transform="rotate(-39.3 102.25 706.85)" fill="#f26c6c"/><ellipse cx="107.75" cy="706.85" rx="1.7" ry="1.2" transform="rotate(39.3 107.75 706.85)" fill="#f26c6c"/><ellipse cx="113.25" cy="706.85" rx="1.7" ry="1.2" transform="rotate(-39.3 113.25 706.85)" fill="#f26c6c"/><circle cx="32.00" cy="711.40" r="1.2" fill="#f26c6c"/><circle cx="35.00" cy="711.40" r="1.2" fill="#f26c6c"/><circle cx="33.50" cy="709.10" r="1.15" fill="#edb040"/><circle cx="33.50" cy="713.50" r="1.1" fill="#edb040"/><path d="M33.50 713.50V717.70" stroke="#9a9a9a" stroke-width="0.7"/><circle cx="36.60" cy="702.30" r="1.2" fill="#f26c6c"/><circle cx="41.40" cy="702.30" r="1.2" fill="#f26c6c"/><circle cx="39.00" cy="704.60" r="1.15" fill="#edb040"/><circle cx="43.00" cy="711.40" r="1.2" fill="#f26c6c"/><circle cx="46.00" cy="711.40" r="1.2" fill="#f26c6c"/><circle cx="44.50" cy="709.10" r="1.15" fill="#edb040"/><circle cx="44.50" cy="713.50" r="1.1" fill="#edb040"/><path d="M44.50 713.50V717.70" stroke="#9a9a9a" stroke-width="0.7"/><circle cx="47.60" cy="702.30" r="1.2" fill="#f26c6c"/><circle cx="52.40" cy="702.30" r="1.2" fill="#f26c6c"/><circle cx="50.00" cy="704.60" r="1.15" fill="#edb040"/><circle cx="54.00" cy="711.40" r="1.2" fill="#f26c6c"/><circle cx="57.00" cy="711.40" r="1.2" fill="#f26c6c"/><circle cx="55.50" cy="709.10" r="1.15" fill="#edb040"/><circle cx="55.50" cy="713.50" r="1.1" fill="#edb040"/><path d="M55.50 713.50V717.70" stroke="#9a9a9a" stroke-width="0.7"/><circle cx="58.60" cy="702.30" r="1.2" fill="#f26c6c"/><circle cx="63.40" cy="702.30" r="1.2" fill="#f26c6c"/><circle cx="61.00" cy="704.60" r="1.15" fill="#edb040"/><circle cx="65.00" cy="711.40" r="1.2" fill="#f26c6c"/><circle cx="68.00" cy="711.40" r="1.2" fill="#f26c6c"/><circle cx="66.50" cy="709.10" r="1.15" fill="#edb040"/><circle cx="66.50" cy="713.50" r="1.1" fill="#edb040"/><path d="M66.50 713.50V717.70" stroke="#9a9a9a" stroke-width="0.7"/><circle cx="69.60" cy="702.30" r="1.2" fill="#f26c6c"/><circle cx="74.40" cy="702.30" r="1.2" fill="#f26c6c"/><circle cx="72.00" cy="704.60" r="1.15" fill="#edb040"/><circle cx="76.00" cy="711.40" r="1.2" fill="#f26c6c"/><circle cx="79.00" cy="711.40" r="1.2" fill="#f26c6c"/><circle cx="77.50" cy="709.10" r="1.15" fill="#edb040"/><circle cx="77.50" cy="713.50" r="1.1" fill="#edb040"/><path d="M77.50 713.50V717.70" stroke="#9a9a9a" stroke-width="0.7"/><circle cx="80.60" cy="702.30" r="1.2" fill="#f26c6c"/><circle cx="85.40" cy="702.30" r="1.2" fill="#f26c6c"/><circle cx="83.00" cy="704.60" r="1.15" fill="#edb040"/><circle cx="87.00" cy="711.40" r="1.2" fill="#f26c6c"/><circle cx="90.00" cy="711.40" r="1.2" fill="#f26c6c"/><circle cx="88.50" cy="709.10" r="1.15" fill="#edb040"/><circle cx="88.50" cy="713.50" r="1.1" fill="#edb040"/><path d="M88.50 713.50V717.70" stroke="#9a9a9a" stroke-width="0.7"/><circle cx="91.60" cy="702.30" r="1.2" fill="#f26c6c"/><circle cx="96.40" cy="702.30" r="1.2" fill="#f26c6c"/><circle cx="94.00" cy="704.60" r="1.15" fill="#edb040"/><circle cx="98.00" cy="711.40" r="1.2" fill="#f26c6c"/><circle cx="101.00" cy="711.40" r="1.2" fill="#f26c6c"/><circle cx="99.50" cy="709.10" r="1.15" fill="#edb040"/><circle cx="99.50" cy="713.50" r="1.1" fill="#edb040"/><path d="M99.50 713.50V717.70" stroke="#9a9a9a" stroke-width="0.7"/><circle cx="102.60" cy="702.30" r="1.2" fill="#f26c6c"/><circle cx="107.40" cy="702.30" r="1.2" fill="#f26c6c"/><circle cx="105.00" cy="704.60" r="1.15" fill="#edb040"/><circle cx="109.00" cy="711.40" r="1.2" fill="#f26c6c"/><circle cx="112.00" cy="711.40" r="1.2" fill="#f26c6c"/><circle cx="110.50" cy="709.10" r="1.15" fill="#edb040"/><circle cx="110.50" cy="713.50" r="1.1" fill="#edb040"/><path d="M110.50 713.50V717.70" stroke="#9a9a9a" stroke-width="0.7"/><circle cx="113.60" cy="702.30" r="1.2" fill="#f26c6c"/><circle cx="118.40" cy="702.30" r="1.2" fill="#f26c6c"/><circle cx="116.00" cy="704.60" r="1.15" fill="#edb040"/>
<rect x="28" y="716.7" width="88.00" height="86.80" fill="url(#sic_j)"/>
<text transform="translate(21.90,712.70) rotate(-90)" x="0" y="0" font-size="13.4" text-anchor="middle" fill="#000" font-weight="bold">Covalently bond</text>
<text transform="translate(130.00,663.00) rotate(-90)" x="0" y="0" font-size="12" text-anchor="middle" fill="#231f20" font-weight="bold">Ga<tspan font-size="7" dy="1">2</tspan><tspan dy="-1">O</tspan><tspan font-size="7" dy="1">3</tspan></text>
<text transform="translate(130.00,710.80) rotate(-90)" x="0" y="0" font-size="12" text-anchor="middle" fill="#231f20" font-weight="bold">SiO<tspan font-size="7" dy="1">2</tspan></text>
<text transform="translate(130.00,766.00) rotate(-90)" x="0" y="0" font-size="12" text-anchor="middle" fill="#231f20" font-weight="bold">SiC</text>
<g>
<path d="M1.5 77.5 L127.2 82.5 L127.2 100.3 L1.5 97.9 Z" fill="#c9c9c9"/>
<path d="M1.5 97.9 L127.2 100.3 L127.2 137 L1.5 132.5 Z" fill="#fdd9ea"/>
<path d="M1.5 133.5 L127.2 136.8 L127.2 177.5 L1.5 171.2 Z" fill="#bde4f9"/>
<path d="M1.5 132.0 C12 131.2 20 133.8 32 133.2 C44 132.6 52 134.6 64 134.4 C76 134.2 84 135.6 96 135.2 C108 134.8 116 136.6 127.2 136.2 L127.2 137.6 C116 138 108 136.4 96 137 C84 137.4 76 136 64 136.4 C52 136.7 44 134.8 32 135.3 C20 135.8 12 133.8 1.5 135.2 Z" fill="#f6bb78"/>
<path d="M127.2 82.5 L163.3 43.9 L163.3 63.7 L127.2 100.3 Z" fill="#9a9a9a"/>
<path d="M127.2 100.3 L163.3 63.7 L163.3 99.3 L127.2 136.2 Z" fill="#c9a2b3"/>
<path d="M127.2 136.2 L163.3 99.3 L163.3 101.4 L127.2 138.2 Z" fill="#e8ae6c"/>
<path d="M127.2 138.2 L163.3 101.4 L163.3 140.9 L127.2 177.5 Z" fill="#8caec7"/>
<path d="M1.5 77.5 L37.5 39.5 L163.3 43.9 L127.2 82.5 Z" fill="#8d8d8d"/>
<defs><radialGradient id="glow" cx="0.5" cy="0.5" r="0.5"><stop offset="0" stop-color="#ff4a00" stop-opacity="0.95"/><stop offset="0.5" stop-color="#f77a30" stop-opacity="0.6"/><stop offset="1" stop-color="#f79a60" stop-opacity="0"/></radialGradient>
<linearGradient id="cylw" x1="0" x2="1" y1="0" y2="0"><stop offset="0" stop-color="#c8c8c8"/><stop offset="0.3" stop-color="#f2f2f2"/><stop offset="0.7" stop-color="#f4f4f4"/><stop offset="1" stop-color="#c4c4c4"/></linearGradient>
<linearGradient id="liq" x1="0" x2="0" y1="0" y2="1"><stop offset="0" stop-color="#f3b594"/><stop offset="0.3" stop-color="#fbdccb"/><stop offset="0.5" stop-color="#fce6da"/><stop offset="0.62" stop-color="#f6c4a6"/><stop offset="1" stop-color="#f4a890"/></linearGradient></defs>
<path d="M54.3 6.3 V37.8 L68.6 61 H72.6 L87 37.8 V6.3 Z" fill="url(#cylw)" stroke="#a8a8a8" stroke-width="0.8"/>
<path d="M56.8 16.5 V37.6 L69.2 57.5 H72 L84.5 37.6 V16.5 Z" fill="url(#liq)"/>
<ellipse cx="70.65" cy="16.5" rx="13.85" ry="3.2" fill="#f3b08e"/>
<ellipse cx="70.65" cy="6.2" rx="16.3" ry="4.4" fill="#e4e4e4" stroke="#b8b8b8" stroke-width="0.6"/>
<ellipse cx="70.6" cy="56" rx="16" ry="14" fill="url(#glow)" opacity="0.85"/>
<path d="M67.3 47 H74.3 V54 H67.3 Z" fill="#f7a0a8" opacity="0.8"/>
<path d="M67.1 54 H74.7 V61 L70.9 63.5 L67.1 61 Z" fill="#ee1010"/>
<path d="M70.8 48.3 V63.3" stroke="#38b0ea" stroke-width="1.3"/>
<path d="M70.8 47.5 V52" stroke="#c9e8f6" stroke-width="1.3"/>
<text x="70.40" y="25.90" font-size="11" text-anchor="middle" fill="#231f20" font-weight="bold" >Laser</text>
<text x="79.00" y="60.60" font-size="11.5" text-anchor="start" fill="#35aee8" font-weight="bold" >532 nm probe</text>
<text x="-0.50" y="71.70" font-size="11.7" text-anchor="start" fill="#ec3c1e" font-weight="bold" >1064 nm heating</text>
<path d="M19.8 80 V92.3" stroke="#3cb44a" stroke-width="1.8"/>
<path d="M19.8 92.3 L14.8 94.2 L24.7 97.3 L14.8 100.4 L24.7 103.9 L19.8 105.3" stroke="#111" stroke-width="1.9" fill="none" stroke-linejoin="miter"/>
<path d="M19.8 105.3 V127" stroke="#f07aa8" stroke-width="1.6"/>
<path d="M19.8 127 L14.3 128.8 L25.3 131.3 L14.3 134.3 L25.3 137.6 L19.8 139.3" stroke="#fff" stroke-width="1.7" fill="none"/>
<path d="M19.8 139.3 V161.6" stroke="#1f4a78" stroke-width="1.9"/>
<text x="27.80" y="100.60" font-size="11.2" text-anchor="start" fill="#231f20" font-weight="bold" >ITC<tspan font-size="7.5" dy="1.5">1</tspan></text>
<text x="27.80" y="135.90" font-size="11.2" text-anchor="start" fill="#7a7a7a" font-weight="bold" >ITC<tspan font-size="7.5" dy="1.5">2</tspan></text>
<text x="79.40" y="93.30" font-size="11.2" text-anchor="middle" fill="#231f20" font-weight="bold" >κ_Al</text>
<text x="85.60" y="120.60" font-size="11.2" text-anchor="middle" fill="#5e5e5e" font-weight="bold" >κ_Ga<tspan font-size="7.5" dy="1.5">2</tspan><tspan dy="-1.5">O</tspan><tspan font-size="7.5" dy="1.5">3</tspan></text>
<text x="81.90" y="154.10" font-size="11.2" text-anchor="middle" fill="#231f20" font-weight="bold" >κ_SiC</text>
</g>
<text x="1.20" y="16.40" font-size="14.5" text-anchor="start" fill="#000" font-weight="bold" >(a)</text>
</svg></body></html>
